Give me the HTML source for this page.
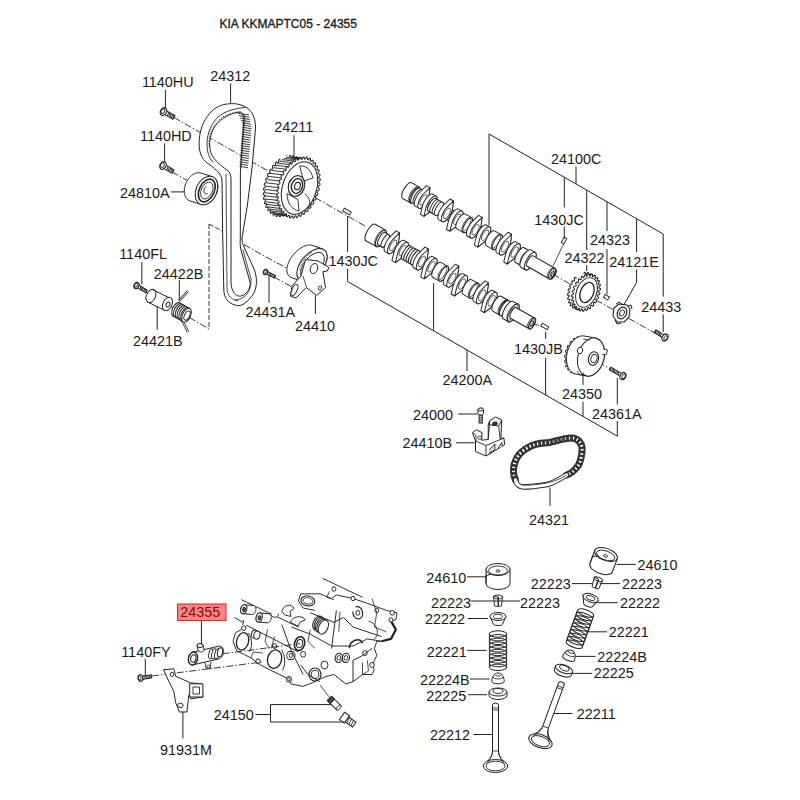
<!DOCTYPE html>
<html><head><meta charset="utf-8"><style>html,body{margin:0;padding:0;background:#fff;width:800px;height:800px;overflow:hidden}svg{display:block;font-family:"Liberation Sans",sans-serif}</style></head>
<body><svg width="800" height="800" viewBox="0 0 800 800">
<line x1="174.0" y1="117.5" x2="365.0" y2="226.0" stroke="#222" stroke-width="0.9" stroke-dasharray="7 2 1.5 2"/>
<line x1="172.0" y1="172.0" x2="190.0" y2="182.0" stroke="#222" stroke-width="0.9" stroke-dasharray="7 2 1.5 2"/>
<g transform="translate(163.5 111.5) rotate(29.7) scale(1)">
<rect x="2.0" y="-2.0" width="10.1" height="4.1" fill="#fff" stroke="#222" stroke-width="1"/>
<line x1="4.8" y1="-2.0" x2="5.7" y2="2.0" stroke="#222" stroke-width="0.9"/>
<line x1="6.3" y1="-2.0" x2="7.2" y2="2.0" stroke="#222" stroke-width="0.9"/>
<line x1="7.8" y1="-2.0" x2="8.7" y2="2.0" stroke="#222" stroke-width="0.9"/>
<line x1="9.3" y1="-2.0" x2="10.2" y2="2.0" stroke="#222" stroke-width="0.9"/>
<line x1="10.8" y1="-2.0" x2="11.7" y2="2.0" stroke="#222" stroke-width="0.9"/>
<ellipse cx="0" cy="0" rx="3.0" ry="4.0" fill="#fff" stroke="#222" stroke-width="1.2"/>
<ellipse cx="-0.8" cy="0" rx="1.7" ry="2.4" fill="none" stroke="#222" stroke-width="0.9"/>
</g>
<g transform="translate(163.0 165.5) rotate(31.0) scale(1)">
<rect x="2.0" y="-2.0" width="9.7" height="4.1" fill="#fff" stroke="#222" stroke-width="1"/>
<line x1="4.8" y1="-2.0" x2="5.7" y2="2.0" stroke="#222" stroke-width="0.9"/>
<line x1="6.3" y1="-2.0" x2="7.2" y2="2.0" stroke="#222" stroke-width="0.9"/>
<line x1="7.8" y1="-2.0" x2="8.7" y2="2.0" stroke="#222" stroke-width="0.9"/>
<line x1="9.3" y1="-2.0" x2="10.2" y2="2.0" stroke="#222" stroke-width="0.9"/>
<line x1="10.8" y1="-2.0" x2="11.7" y2="2.0" stroke="#222" stroke-width="0.9"/>
<ellipse cx="0" cy="0" rx="3.0" ry="4.0" fill="#fff" stroke="#222" stroke-width="1.2"/>
<ellipse cx="-0.8" cy="0" rx="1.7" ry="2.4" fill="none" stroke="#222" stroke-width="0.9"/>
</g>
<polygon points="184.22,191.23 184.25,190.03 184.36,188.80 184.56,187.56 184.84,186.31 185.21,185.07 185.65,183.85 186.17,182.65 186.75,181.48 187.41,180.35 188.12,179.28 188.90,178.26 189.72,177.31 190.59,176.43 191.49,175.64 192.42,174.93 193.38,174.31 194.36,173.79 195.34,173.37 196.32,173.05 197.30,172.84 198.26,172.74 199.21,172.74 200.12,172.86 201.00,173.08 212.00,176.58 212.84,176.91 213.63,177.34 214.36,177.87 215.04,178.50 215.65,179.21 216.19,180.02 216.66,180.90 217.05,181.86 217.36,182.88 217.58,183.97 217.73,185.10 217.78,186.27 217.75,187.47 217.64,188.70 217.44,189.94 217.16,191.19 216.79,192.43 216.35,193.65 215.83,194.85 215.25,196.02 214.59,197.15 213.88,198.22 213.10,199.24 212.28,200.19 211.41,201.07 210.51,201.86 209.58,202.57 208.62,203.19 207.64,203.71 206.66,204.13 205.68,204.45 204.70,204.66 203.74,204.76 202.79,204.76 201.88,204.64 201.00,204.42 190.00,200.92 189.16,200.59 188.37,200.16 187.64,199.63 186.96,199.00 186.35,198.29 185.81,197.48 185.34,196.60 184.95,195.64 184.64,194.62 184.42,193.53 184.27,192.40" fill="#fff" stroke="#222" stroke-width="1" stroke-linejoin="round"/>
<ellipse cx="206.5" cy="190.5" rx="10.3" ry="15.0" transform="rotate(25.0 206.5 190.5)" stroke="#222" stroke-width="1" fill="#fff" />
<ellipse cx="206.8" cy="190.5" rx="7.5" ry="12.0" transform="rotate(25.0 206.8 190.5)" stroke="#222" stroke-width="1.6" fill="#fff" />
<ellipse cx="206.8" cy="190.5" rx="5.5" ry="9.0" transform="rotate(25.0 206.8 190.5)" stroke="#222" stroke-width="0.8" fill="#fff" />
<path d="M206.5,186.5 A2.6,3.6 25 1 0 207.5,193.5" stroke="#222" stroke-width="0.9" fill="none"/>
<path d="M230,103.7 C240,103 250,107 253.5,116 C255.5,121 255.8,126 255.4,130 L252,168 L247.4,205 L242,238 C242,241 242.5,244 244,247 L254.5,270 C258,280 257,292 250,298 C246,304 240,307 235,305 C228,303 224,298 223.8,290 L222.6,230 L222,180 C221.5,173 214,168 206,162 C199,156 198.5,146 199.5,137 C201,126 205,118 212,111 C217,106 224,104 230,103.7 Z M240.5,112 C232,112.5 221,118 215,126 C210,134 209,142 210,149 C211,158 220,165 227,170 C230,172 231,175 231,180 L231,283 C231.5,292 236,297 241,296 C246,295 251,289 250,282 L241,250 C240,246 240,242 240.3,238 L240.4,172 L243.5,124 C244,118 243.5,113 240.5,112 Z" fill="#fff" fill-rule="evenodd" stroke="#222" stroke-width="1"/>
<path d="M245,107.5 C236,108 225,111 218,117 C211,124 207.5,133 207,143 C207,152 209,158 213,162" stroke="#222" stroke-width="0.9" fill="none" stroke-linejoin="round" stroke-linecap="round" />
<path d="M226,174 L227,290 C228,296 232,300 238,301" stroke="#222" stroke-width="0.8" fill="none" stroke-linejoin="round" stroke-linecap="round" />
<path d="M235,300 C244,300 252,292 251,279 L243,250" stroke="#222" stroke-width="0.8" fill="none" stroke-linejoin="round" stroke-linecap="round" />
<line x1="240.0" y1="112.8" x2="239.8" y2="111.2" stroke="#222" stroke-width="0.8"/>
<line x1="237.6" y1="113.1" x2="237.4" y2="111.5" stroke="#222" stroke-width="0.8"/>
<line x1="235.2" y1="113.4" x2="235.0" y2="111.8" stroke="#222" stroke-width="0.8"/>
<line x1="232.9" y1="113.8" x2="232.7" y2="112.2" stroke="#222" stroke-width="0.8"/>
<line x1="230.5" y1="114.2" x2="229.8" y2="112.8" stroke="#222" stroke-width="0.8"/>
<line x1="228.4" y1="115.3" x2="227.7" y2="113.9" stroke="#222" stroke-width="0.8"/>
<line x1="226.2" y1="116.4" x2="225.5" y2="114.9" stroke="#222" stroke-width="0.8"/>
<line x1="224.1" y1="117.5" x2="223.4" y2="116.0" stroke="#222" stroke-width="0.8"/>
<line x1="222.0" y1="118.5" x2="220.8" y2="117.5" stroke="#222" stroke-width="0.8"/>
<line x1="220.3" y1="120.3" x2="219.2" y2="119.2" stroke="#222" stroke-width="0.8"/>
<line x1="218.7" y1="122.1" x2="217.5" y2="121.0" stroke="#222" stroke-width="0.8"/>
<line x1="217.0" y1="123.8" x2="215.9" y2="122.7" stroke="#222" stroke-width="0.8"/>
<line x1="215.4" y1="125.6" x2="214.2" y2="124.5" stroke="#222" stroke-width="0.8"/>
<line x1="214.2" y1="127.6" x2="212.8" y2="126.9" stroke="#222" stroke-width="0.8"/>
<line x1="213.1" y1="129.8" x2="211.7" y2="129.0" stroke="#222" stroke-width="0.8"/>
<line x1="212.0" y1="131.9" x2="210.6" y2="131.2" stroke="#222" stroke-width="0.8"/>
<line x1="211.0" y1="134.1" x2="209.4" y2="133.8" stroke="#222" stroke-width="0.8"/>
<line x1="210.6" y1="136.4" x2="209.1" y2="136.2" stroke="#222" stroke-width="0.8"/>
<line x1="210.3" y1="138.8" x2="208.7" y2="138.6" stroke="#222" stroke-width="0.8"/>
<line x1="209.9" y1="141.2" x2="208.3" y2="140.9" stroke="#222" stroke-width="0.8"/>
<line x1="210.0" y1="143.6" x2="208.4" y2="143.7" stroke="#222" stroke-width="0.8"/>
<line x1="210.2" y1="145.9" x2="208.6" y2="146.1" stroke="#222" stroke-width="0.8"/>
<line x1="238.0" y1="113.4" x2="249.0" y2="114.9" stroke="#222" stroke-width="0.9"/>
<line x1="239.0" y1="115.7" x2="249.4" y2="117.2" stroke="#222" stroke-width="0.9"/>
<line x1="240.1" y1="118.0" x2="249.8" y2="119.5" stroke="#222" stroke-width="0.9"/>
<line x1="241.1" y1="120.3" x2="250.2" y2="121.8" stroke="#222" stroke-width="0.9"/>
<line x1="242.1" y1="122.6" x2="250.7" y2="124.1" stroke="#222" stroke-width="0.9"/>
<line x1="242.4" y1="124.9" x2="251.1" y2="126.4" stroke="#222" stroke-width="0.9"/>
<line x1="242.2" y1="127.2" x2="251.5" y2="128.7" stroke="#222" stroke-width="0.9"/>
<line x1="242.1" y1="129.5" x2="251.3" y2="131.0" stroke="#222" stroke-width="0.9"/>
<line x1="241.9" y1="131.8" x2="251.1" y2="133.3" stroke="#222" stroke-width="0.9"/>
<line x1="241.8" y1="134.1" x2="250.9" y2="135.6" stroke="#222" stroke-width="0.9"/>
<line x1="241.6" y1="136.4" x2="250.7" y2="137.9" stroke="#222" stroke-width="0.9"/>
<line x1="241.4" y1="138.7" x2="250.5" y2="140.2" stroke="#222" stroke-width="0.9"/>
<line x1="241.3" y1="141.0" x2="250.3" y2="142.5" stroke="#222" stroke-width="0.9"/>
<line x1="241.1" y1="143.3" x2="250.1" y2="144.8" stroke="#222" stroke-width="0.9"/>
<line x1="240.9" y1="145.6" x2="249.9" y2="147.1" stroke="#222" stroke-width="0.9"/>
<line x1="240.8" y1="147.9" x2="249.7" y2="149.4" stroke="#222" stroke-width="0.9"/>
<line x1="240.6" y1="150.2" x2="249.4" y2="151.7" stroke="#222" stroke-width="0.9"/>
<line x1="240.5" y1="152.5" x2="249.2" y2="154.0" stroke="#222" stroke-width="0.9"/>
<line x1="240.3" y1="154.8" x2="249.0" y2="156.3" stroke="#222" stroke-width="0.9"/>
<line x1="240.1" y1="157.1" x2="248.8" y2="158.6" stroke="#222" stroke-width="0.9"/>
<line x1="240.0" y1="159.4" x2="248.6" y2="160.9" stroke="#222" stroke-width="0.9"/>
<line x1="239.8" y1="161.7" x2="248.4" y2="163.2" stroke="#222" stroke-width="0.9"/>
<line x1="239.7" y1="164.0" x2="248.2" y2="165.5" stroke="#222" stroke-width="0.9"/>
<line x1="239.5" y1="166.3" x2="248.0" y2="167.8" stroke="#222" stroke-width="0.9"/>
<path d="M242.5,113 C246,117 245,121 244,126 L240.8,168" stroke="#222" stroke-width="0.7" fill="none" stroke-linejoin="round" stroke-linecap="round" />
<polygon points="20.5,0.0 20.5,1.3 19.0,2.4 18.9,3.6 20.2,5.2 20.1,6.5 18.5,7.2 18.3,8.4 19.4,10.2 19.1,11.5 17.5,11.8 17.1,12.9 18.0,15.0 17.6,16.1 16.0,16.0 15.5,17.0 16.2,19.3 15.6,20.4 14.0,19.8 13.5,20.7 13.9,23.2 13.2,24.0 11.7,23.1 11.1,23.8 11.2,26.4 10.5,27.1 9.1,25.8 8.4,26.3 8.2,28.8 7.5,29.3 6.2,27.7 5.4,28.1 5.0,30.5 4.2,30.8 3.1,28.9 2.4,29.1 1.7,31.4 0.8,31.5 0.0,29.3 -0.8,29.3 -1.7,31.4 -2.5,31.3 -3.1,28.9 -3.9,28.7 -5.0,30.5 -5.8,30.2 -6.2,27.7 -6.9,27.3 -8.2,28.8 -9.0,28.3 -9.1,25.8 -9.8,25.2 -11.2,26.4 -11.9,25.6 -11.7,23.1 -12.3,22.4 -13.9,23.2 -14.5,22.3 -14.0,19.8 -14.6,18.9 -16.2,19.3 -16.7,18.3 -16.0,16.0 -16.4,15.0 -18.0,15.0 -18.4,13.8 -17.5,11.8 -17.8,10.7 -19.4,10.2 -19.6,9.0 -18.5,7.2 -18.7,6.0 -20.2,5.2 -20.3,3.9 -19.0,2.4 -19.1,1.2 -20.5,0.0 -20.5,-1.3 -19.0,-2.4 -18.9,-3.6 -20.2,-5.2 -20.1,-6.5 -18.5,-7.2 -18.3,-8.4 -19.4,-10.2 -19.1,-11.5 -17.5,-11.8 -17.1,-12.9 -18.0,-15.0 -17.6,-16.1 -16.0,-16.0 -15.5,-17.0 -16.2,-19.3 -15.6,-20.4 -14.0,-19.8 -13.5,-20.7 -13.9,-23.2 -13.2,-24.0 -11.7,-23.1 -11.1,-23.8 -11.2,-26.4 -10.5,-27.1 -9.1,-25.8 -8.4,-26.3 -8.2,-28.8 -7.5,-29.3 -6.2,-27.7 -5.4,-28.1 -5.0,-30.5 -4.2,-30.8 -3.1,-28.9 -2.4,-29.1 -1.7,-31.4 -0.8,-31.5 -0.0,-29.3 0.8,-29.3 1.7,-31.4 2.5,-31.3 3.1,-28.9 3.9,-28.7 5.0,-30.5 5.8,-30.2 6.2,-27.7 6.9,-27.3 8.2,-28.8 9.0,-28.3 9.1,-25.8 9.8,-25.2 11.2,-26.4 11.9,-25.6 11.7,-23.1 12.3,-22.4 13.9,-23.2 14.5,-22.3 14.0,-19.8 14.6,-18.9 16.2,-19.3 16.7,-18.3 16.0,-16.0 16.4,-15.0 18.0,-15.0 18.4,-13.8 17.5,-11.8 17.8,-10.7 19.4,-10.2 19.6,-9.0 18.5,-7.2 18.7,-6.0 20.2,-5.2 20.3,-3.9 19.0,-2.4 19.1,-1.2" transform="translate(285.0 186.0) rotate(18.0)" fill="#fff" stroke="#222" stroke-width="1" stroke-linejoin="round"/>
<path d="M279,155.5 L292,156.5 L313,217 L299,217.5 Z" fill="#fff" stroke="none"/>
<line x1="275.7" y1="214.5" x2="288.2" y2="216.0" stroke="#222" stroke-width="0.9"/>
<line x1="273.7" y1="213.7" x2="286.2" y2="215.2" stroke="#222" stroke-width="0.9"/>
<line x1="271.9" y1="212.5" x2="284.4" y2="214.0" stroke="#222" stroke-width="0.9"/>
<line x1="270.2" y1="210.9" x2="282.7" y2="212.4" stroke="#222" stroke-width="0.9"/>
<line x1="268.7" y1="209.0" x2="281.2" y2="210.5" stroke="#222" stroke-width="0.9"/>
<line x1="267.5" y1="206.9" x2="280.0" y2="208.4" stroke="#222" stroke-width="0.9"/>
<line x1="266.4" y1="204.4" x2="278.9" y2="205.9" stroke="#222" stroke-width="0.9"/>
<line x1="265.6" y1="201.8" x2="278.1" y2="203.3" stroke="#222" stroke-width="0.9"/>
<line x1="265.0" y1="198.9" x2="277.5" y2="200.4" stroke="#222" stroke-width="0.9"/>
<line x1="264.7" y1="195.8" x2="277.2" y2="197.3" stroke="#222" stroke-width="0.9"/>
<line x1="264.7" y1="192.7" x2="277.2" y2="194.2" stroke="#222" stroke-width="0.9"/>
<line x1="264.9" y1="189.4" x2="277.4" y2="190.9" stroke="#222" stroke-width="0.9"/>
<line x1="265.4" y1="186.1" x2="277.9" y2="187.6" stroke="#222" stroke-width="0.9"/>
<line x1="266.2" y1="182.8" x2="278.7" y2="184.3" stroke="#222" stroke-width="0.9"/>
<line x1="267.1" y1="179.5" x2="279.6" y2="181.0" stroke="#222" stroke-width="0.9"/>
<line x1="268.3" y1="176.3" x2="280.8" y2="177.8" stroke="#222" stroke-width="0.9"/>
<line x1="269.8" y1="173.3" x2="282.3" y2="174.8" stroke="#222" stroke-width="0.9"/>
<line x1="271.4" y1="170.4" x2="283.9" y2="171.9" stroke="#222" stroke-width="0.9"/>
<line x1="273.2" y1="167.7" x2="285.7" y2="169.2" stroke="#222" stroke-width="0.9"/>
<line x1="275.1" y1="165.2" x2="287.6" y2="166.7" stroke="#222" stroke-width="0.9"/>
<line x1="277.2" y1="163.1" x2="289.7" y2="164.6" stroke="#222" stroke-width="0.9"/>
<line x1="279.4" y1="161.2" x2="291.9" y2="162.7" stroke="#222" stroke-width="0.9"/>
<line x1="281.7" y1="159.6" x2="294.2" y2="161.1" stroke="#222" stroke-width="0.9"/>
<line x1="284.0" y1="158.4" x2="296.5" y2="159.9" stroke="#222" stroke-width="0.9"/>
<line x1="286.3" y1="157.5" x2="298.8" y2="159.0" stroke="#222" stroke-width="0.9"/>
<line x1="288.6" y1="157.0" x2="301.1" y2="158.5" stroke="#222" stroke-width="0.9"/>
<line x1="290.8" y1="156.9" x2="303.3" y2="158.4" stroke="#222" stroke-width="0.9"/>
<line x1="293.0" y1="157.1" x2="305.5" y2="158.6" stroke="#222" stroke-width="0.9"/>
<line x1="295.0" y1="157.7" x2="307.5" y2="159.2" stroke="#222" stroke-width="0.9"/>
<line x1="297.0" y1="158.7" x2="309.5" y2="160.2" stroke="#222" stroke-width="0.9"/>
<polygon points="20.5,0.0 20.5,1.3 19.0,2.4 18.9,3.6 20.2,5.2 20.1,6.5 18.5,7.2 18.3,8.4 19.4,10.2 19.1,11.5 17.5,11.8 17.1,12.9 18.0,15.0 17.6,16.1 16.0,16.0 15.5,17.0 16.2,19.3 15.6,20.4 14.0,19.8 13.5,20.7 13.9,23.2 13.2,24.0 11.7,23.1 11.1,23.8 11.2,26.4 10.5,27.1 9.1,25.8 8.4,26.3 8.2,28.8 7.5,29.3 6.2,27.7 5.4,28.1 5.0,30.5 4.2,30.8 3.1,28.9 2.4,29.1 1.7,31.4 0.8,31.5 0.0,29.3 -0.8,29.3 -1.7,31.4 -2.5,31.3 -3.1,28.9 -3.9,28.7 -5.0,30.5 -5.8,30.2 -6.2,27.7 -6.9,27.3 -8.2,28.8 -9.0,28.3 -9.1,25.8 -9.8,25.2 -11.2,26.4 -11.9,25.6 -11.7,23.1 -12.3,22.4 -13.9,23.2 -14.5,22.3 -14.0,19.8 -14.6,18.9 -16.2,19.3 -16.7,18.3 -16.0,16.0 -16.4,15.0 -18.0,15.0 -18.4,13.8 -17.5,11.8 -17.8,10.7 -19.4,10.2 -19.6,9.0 -18.5,7.2 -18.7,6.0 -20.2,5.2 -20.3,3.9 -19.0,2.4 -19.1,1.2 -20.5,0.0 -20.5,-1.3 -19.0,-2.4 -18.9,-3.6 -20.2,-5.2 -20.1,-6.5 -18.5,-7.2 -18.3,-8.4 -19.4,-10.2 -19.1,-11.5 -17.5,-11.8 -17.1,-12.9 -18.0,-15.0 -17.6,-16.1 -16.0,-16.0 -15.5,-17.0 -16.2,-19.3 -15.6,-20.4 -14.0,-19.8 -13.5,-20.7 -13.9,-23.2 -13.2,-24.0 -11.7,-23.1 -11.1,-23.8 -11.2,-26.4 -10.5,-27.1 -9.1,-25.8 -8.4,-26.3 -8.2,-28.8 -7.5,-29.3 -6.2,-27.7 -5.4,-28.1 -5.0,-30.5 -4.2,-30.8 -3.1,-28.9 -2.4,-29.1 -1.7,-31.4 -0.8,-31.5 -0.0,-29.3 0.8,-29.3 1.7,-31.4 2.5,-31.3 3.1,-28.9 3.9,-28.7 5.0,-30.5 5.8,-30.2 6.2,-27.7 6.9,-27.3 8.2,-28.8 9.0,-28.3 9.1,-25.8 9.8,-25.2 11.2,-26.4 11.9,-25.6 11.7,-23.1 12.3,-22.4 13.9,-23.2 14.5,-22.3 14.0,-19.8 14.6,-18.9 16.2,-19.3 16.7,-18.3 16.0,-16.0 16.4,-15.0 18.0,-15.0 18.4,-13.8 17.5,-11.8 17.8,-10.7 19.4,-10.2 19.6,-9.0 18.5,-7.2 18.7,-6.0 20.2,-5.2 20.3,-3.9 19.0,-2.4 19.1,-1.2" transform="translate(298.5 187.5) rotate(18.0)" fill="#fff" stroke="#222" stroke-width="1" stroke-linejoin="round"/>
<ellipse cx="299.5" cy="188.0" rx="17.0" ry="27.0" transform="rotate(18.0 299.5 188.0)" stroke="#222" stroke-width="1" fill="#fff" />
<path d="M300,166 C306,165 311,170 313,178 L304,181 Z" stroke="#222" stroke-width="0.9" fill="none" stroke-linejoin="round" stroke-linecap="round" />
<path d="M287,194 C287,203 292,210 299,211 L298,200 Z" stroke="#222" stroke-width="0.9" fill="none" stroke-linejoin="round" stroke-linecap="round" />
<path d="M305,194 C309,197 311,202 309,207" stroke="#222" stroke-width="0.9" fill="none" stroke-linejoin="round" stroke-linecap="round" />
<ellipse cx="296.5" cy="186.0" rx="8.0" ry="10.5" transform="rotate(18.0 296.5 186.0)" stroke="#222" stroke-width="1.2" fill="#fff" />
<ellipse cx="297.0" cy="186.0" rx="5.5" ry="7.5" transform="rotate(18.0 297.0 186.0)" stroke="#222" stroke-width="1.4" fill="#fff" />
<ellipse cx="297.5" cy="186.0" rx="2.8" ry="3.8" transform="rotate(18.0 297.5 186.0)" stroke="#222" stroke-width="1.1" fill="#fff" />
<rect x="343" y="210" width="8" height="3.2" transform="rotate(30 347 211.6)" fill="#fff" stroke="#222" stroke-width="0.9"/>
<line x1="146.0" y1="292.0" x2="209.0" y2="329.0" stroke="#222" stroke-width="0.9" stroke-dasharray="7 2 1.5 2"/>
<line x1="209.0" y1="224.0" x2="209.0" y2="329.0" stroke="#222" stroke-width="0.9" stroke-dasharray="5 2"/>
<line x1="209.0" y1="224.0" x2="222.0" y2="231.0" stroke="#222" stroke-width="0.9" stroke-dasharray="5 2"/>
<g transform="translate(136.5 285.5) rotate(31.0) scale(1)">
<rect x="1.6" y="-1.5" width="10.1" height="3.1" fill="#fff" stroke="#222" stroke-width="1"/>
<line x1="4.0" y1="-1.5" x2="4.9" y2="1.5" stroke="#222" stroke-width="0.9"/>
<line x1="5.5" y1="-1.5" x2="6.4" y2="1.5" stroke="#222" stroke-width="0.9"/>
<line x1="7.0" y1="-1.5" x2="7.9" y2="1.5" stroke="#222" stroke-width="0.9"/>
<line x1="8.5" y1="-1.5" x2="9.4" y2="1.5" stroke="#222" stroke-width="0.9"/>
<line x1="10.0" y1="-1.5" x2="10.9" y2="1.5" stroke="#222" stroke-width="0.9"/>
<ellipse cx="0" cy="0" rx="2.4" ry="3.2" fill="#fff" stroke="#222" stroke-width="1.2"/>
<ellipse cx="-0.6" cy="0" rx="1.3" ry="1.9" fill="none" stroke="#222" stroke-width="0.9"/>
</g>
<path d="M153,290 L169,298.5 L167,310 L150,301 Z" fill="#fff" stroke="none"/>
<ellipse cx="151.0" cy="296.0" rx="4.5" ry="7.0" transform="rotate(25.0 151.0 296.0)" stroke="#222" stroke-width="1" fill="#fff" />
<line x1="152.5" y1="289.5" x2="169.5" y2="298.0" stroke="#222" stroke-width="1"/>
<line x1="147.5" y1="302.0" x2="165.0" y2="310.5" stroke="#222" stroke-width="1"/>
<ellipse cx="167.5" cy="304.0" rx="4.5" ry="7.0" transform="rotate(25.0 167.5 304.0)" stroke="#222" stroke-width="1" fill="#fff" />
<ellipse cx="168.0" cy="304.5" rx="1.8" ry="2.6" transform="rotate(25.0 168.0 304.5)" stroke="#222" stroke-width="0.9" fill="#fff" />
<line x1="179.0" y1="301.0" x2="188.0" y2="291.0" stroke="#222" stroke-width="2.4"/>
<line x1="179.0" y1="301.0" x2="188.0" y2="291.0" stroke="#fff" stroke-width="1"/>
<line x1="182.0" y1="320.0" x2="188.0" y2="332.0" stroke="#222" stroke-width="2.4"/>
<line x1="182.0" y1="320.0" x2="188.0" y2="332.0" stroke="#fff" stroke-width="1"/>
<ellipse cx="176.5" cy="309.5" rx="4.0" ry="7.5" transform="rotate(25.0 176.5 309.5)" stroke="#222" stroke-width="1" fill="#fff" />
<ellipse cx="178.3" cy="310.5" rx="4.0" ry="7.5" transform="rotate(25.0 178.3 310.5)" stroke="#222" stroke-width="1" fill="#fff" />
<ellipse cx="180.1" cy="311.5" rx="4.0" ry="7.5" transform="rotate(25.0 180.1 311.5)" stroke="#222" stroke-width="1" fill="#fff" />
<ellipse cx="181.9" cy="312.5" rx="4.0" ry="7.5" transform="rotate(25.0 181.9 312.5)" stroke="#222" stroke-width="1" fill="#fff" />
<ellipse cx="183.7" cy="313.5" rx="4.0" ry="7.5" transform="rotate(25.0 183.7 313.5)" stroke="#222" stroke-width="1" fill="#fff" />
<ellipse cx="185.5" cy="314.5" rx="4.0" ry="7.5" transform="rotate(25.0 185.5 314.5)" stroke="#222" stroke-width="1" fill="#fff" />
<ellipse cx="186.5" cy="315.3" rx="4.0" ry="7.5" transform="rotate(25.0 186.5 315.3)" stroke="#222" stroke-width="1" fill="#fff" />
<ellipse cx="187.0" cy="315.6" rx="2.5" ry="5.0" transform="rotate(25.0 187.0 315.6)" stroke="#222" stroke-width="0.9" fill="#fff" />
<line x1="244.0" y1="244.7" x2="290.0" y2="270.0" stroke="#222" stroke-width="0.9" stroke-dasharray="7 2 1.5 2"/>
<line x1="274.0" y1="277.0" x2="292.0" y2="287.0" stroke="#222" stroke-width="0.9" stroke-dasharray="7 2 1.5 2"/>
<g transform="translate(265.5 272.0) rotate(27.8) scale(1)">
<rect x="1.4" y="-1.4" width="9.3" height="2.7" fill="#fff" stroke="#222" stroke-width="1"/>
<line x1="3.6" y1="-1.4" x2="4.5" y2="1.4" stroke="#222" stroke-width="0.9"/>
<line x1="5.1" y1="-1.4" x2="6.0" y2="1.4" stroke="#222" stroke-width="0.9"/>
<line x1="6.6" y1="-1.4" x2="7.5" y2="1.4" stroke="#222" stroke-width="0.9"/>
<line x1="8.1" y1="-1.4" x2="9.0" y2="1.4" stroke="#222" stroke-width="0.9"/>
<line x1="9.6" y1="-1.4" x2="10.5" y2="1.4" stroke="#222" stroke-width="0.9"/>
<ellipse cx="0" cy="0" rx="2.1" ry="2.8" fill="#fff" stroke="#222" stroke-width="1.2"/>
<ellipse cx="-0.6" cy="0" rx="1.2" ry="1.7" fill="none" stroke="#222" stroke-width="0.9"/>
</g>
<polygon points="286.90,269.68 286.98,268.40 287.18,267.06 287.49,265.69 287.91,264.28 288.44,262.85 289.07,261.40 289.79,259.96 290.62,258.54 291.52,257.13 292.51,255.76 293.57,254.43 294.70,253.15 295.88,251.94 297.10,250.80 298.37,249.75 299.66,248.78 300.97,247.91 302.29,247.14 303.60,246.48 304.90,245.94 306.19,245.51 307.43,245.21 308.64,245.03 309.80,244.97 310.90,245.04 311.93,245.24 312.88,245.56 322.88,249.06 323.75,249.50 324.53,250.06 325.22,250.74 325.81,251.52 326.29,252.40 326.66,253.38 326.92,254.45 327.07,255.60 327.10,256.82 327.02,258.10 326.82,259.44 326.51,260.81 326.09,262.22 325.56,263.65 324.93,265.10 324.21,266.54 323.38,267.96 322.48,269.37 321.49,270.74 320.43,272.07 319.30,273.35 318.12,274.56 316.90,275.70 315.63,276.75 314.34,277.72 313.03,278.59 311.71,279.36 310.40,280.02 309.10,280.56 307.81,280.99 306.57,281.29 305.36,281.47 304.20,281.53 303.10,281.46 302.07,281.26 301.12,280.94 291.12,277.44 290.25,277.00 289.47,276.44 288.78,275.76 288.19,274.98 287.71,274.10 287.34,273.12 287.08,272.05 286.93,270.90" fill="#fff" stroke="#222" stroke-width="1" stroke-linejoin="round"/>
<ellipse cx="312.0" cy="265.0" rx="11.0" ry="19.5" transform="rotate(40.0 312.0 265.0)" stroke="#222" stroke-width="1" fill="#fff" />
<ellipse cx="312.5" cy="265.5" rx="8.5" ry="15.5" transform="rotate(40.0 312.5 265.5)" stroke="#222" stroke-width="0.9" fill="#fff" />
<path d="M300,270 C302,262 306,255 312,252" stroke="#777" stroke-width="2.4" fill="none" stroke-linejoin="round" stroke-dasharray="1 1.3" stroke-linecap="butt"/>
<polygon points="305.5,259.5 318.0,261.0 329.0,267.4 327.2,271.0 322.9,271.7 325.5,287.5 316.7,295.4 306.2,287.5 296.0,298.0 290.5,296.2 292.0,286.0 301.0,276.0" stroke="#222" stroke-width="1" fill="#fff" stroke-linejoin="round"/>
<ellipse cx="314.0" cy="268.5" rx="3.6" ry="5.2" transform="rotate(20.0 314.0 268.5)" stroke="#222" stroke-width="0.9" fill="#fff" />
<ellipse cx="320.0" cy="288.0" rx="1.5" ry="2.2" transform="rotate(20.0 320.0 288.0)" stroke="#222" stroke-width="0.9" fill="#fff" />
<ellipse cx="294.5" cy="290.0" rx="2.5" ry="6.0" transform="rotate(25.0 294.5 290.0)" stroke="#222" stroke-width="0.9" fill="#fff" />
<line x1="303.0" y1="276.0" x2="306.5" y2="287.0" stroke="#222" stroke-width="0.8"/>
<g transform="translate(407.0 190.5) rotate(29.8) scale(1)">
<path d="M0.00,-5.50 L168.19,-5.50 A2.20,5.50 0 0 1 168.19,5.50 L0.00,5.50 A2.20,5.50 0 0 1 0.00,-5.50 Z" fill="#fff" stroke="#222" stroke-width="1"/>
<path d="M0.00,-9.00 L9.00,-9.00 A3.42,9.00 0 0 1 9.00,9.00 L0.00,9.00 A3.42,9.00 0 0 1 0.00,-9.00 Z" fill="#fff" stroke="#222" stroke-width="1"/>
<ellipse cx="9.00" cy="0" rx="3.42" ry="9.00" fill="#fff" stroke="#222" stroke-width="1"/>
<ellipse cx="7.5" cy="0" rx="3.1" ry="8.1" fill="none" stroke="#222" stroke-width="0.7"/>
<ellipse cx="10.0" cy="0" rx="3.2" ry="8.5" fill="#fff" stroke="#222" stroke-width="1"/>
<ellipse cx="12.6" cy="0" rx="3.2" ry="8.5" fill="#fff" stroke="#222" stroke-width="1"/>
<polygon points="11.39,0.00 11.42,-1.24 11.51,-2.46 11.66,-3.64 11.87,-4.75 12.14,-5.78 14.50,-14.00 18.50,-14.00 21.55,-6.72 21.86,-5.78 22.13,-4.75 22.34,-3.64 22.49,-2.46 22.58,-1.24 22.61,0.00 22.58,1.24 22.49,2.46 22.34,3.64 22.13,4.75 21.86,5.78 21.55,6.72 21.20,7.54 20.80,8.23 20.38,8.78 19.93,9.18 19.47,9.42 19.00,9.50 15.00,9.50 14.53,9.42 14.07,9.18 13.62,8.78 13.20,8.23 12.80,7.54 12.45,6.72 12.14,5.78 11.87,4.75 11.66,3.64 11.51,2.46 11.42,1.24" fill="#fff" stroke="#222" stroke-width="0.95" stroke-linejoin="round"/>
<polygon points="15.39,0.00 15.42,-1.24 15.51,-2.46 15.66,-3.64 15.87,-4.75 16.14,-5.78 18.50,-14.00 21.55,-6.72 21.86,-5.78 22.13,-4.75 22.34,-3.64 22.49,-2.46 22.58,-1.24 22.61,0.00 22.58,1.24 22.49,2.46 22.34,3.64 22.13,4.75 21.86,5.78 21.55,6.72 21.20,7.54 20.80,8.23 20.38,8.78 19.93,9.18 19.47,9.42 19.00,9.50 18.53,9.42 18.07,9.18 17.62,8.78 17.20,8.23 16.80,7.54 16.45,6.72 16.14,5.78 15.87,4.75 15.66,3.64 15.51,2.46 15.42,1.24" fill="#fff" stroke="#222" stroke-width="0.95" stroke-linejoin="round"/>
<ellipse cx="19.0" cy="0" rx="2.5" ry="5.9" fill="none" stroke="#222" stroke-width="0.7"/>
<polygon points="20.39,0.00 20.42,-1.24 20.51,-2.46 20.66,-3.64 20.87,-4.75 21.14,-5.78 21.45,-6.72 21.80,-7.54 22.20,-8.23 22.62,-8.78 23.07,-9.18 23.53,-9.42 24.00,-9.50 28.00,-9.50 28.47,-9.42 28.93,-9.18 29.38,-8.78 29.80,-8.23 30.20,-7.54 30.55,-6.72 30.86,-5.78 31.13,-4.75 31.34,-3.64 31.49,-2.46 31.58,-1.24 31.61,0.00 31.58,1.24 31.49,2.46 31.34,3.64 31.13,4.75 30.86,5.78 30.55,6.72 27.50,14.00 23.50,14.00 21.14,5.78 20.87,4.75 20.66,3.64 20.51,2.46 20.42,1.24" fill="#fff" stroke="#222" stroke-width="0.95" stroke-linejoin="round"/>
<polygon points="24.39,0.00 24.42,-1.24 24.51,-2.46 24.66,-3.64 24.87,-4.75 25.14,-5.78 25.45,-6.72 25.80,-7.54 26.20,-8.23 26.62,-8.78 27.07,-9.18 27.53,-9.42 28.00,-9.50 28.47,-9.42 28.93,-9.18 29.38,-8.78 29.80,-8.23 30.20,-7.54 30.55,-6.72 30.86,-5.78 31.13,-4.75 31.34,-3.64 31.49,-2.46 31.58,-1.24 31.61,0.00 31.58,1.24 31.49,2.46 31.34,3.64 31.13,4.75 30.86,5.78 30.55,6.72 27.50,14.00 25.14,5.78 24.87,4.75 24.66,3.64 24.51,2.46 24.42,1.24" fill="#fff" stroke="#222" stroke-width="0.95" stroke-linejoin="round"/>
<ellipse cx="28.0" cy="0" rx="2.5" ry="5.9" fill="none" stroke="#222" stroke-width="0.7"/>
<ellipse cx="29.0" cy="0" rx="2.9" ry="7.5" fill="#fff" stroke="#222" stroke-width="1"/>
<ellipse cx="31.6" cy="0" rx="2.9" ry="7.5" fill="#fff" stroke="#222" stroke-width="1"/>
<ellipse cx="34.2" cy="0" rx="2.9" ry="7.5" fill="#fff" stroke="#222" stroke-width="1"/>
<ellipse cx="36.8" cy="0" rx="2.9" ry="7.5" fill="#fff" stroke="#222" stroke-width="1"/>
<polygon points="38.39,0.00 38.42,-1.24 38.51,-2.46 38.66,-3.64 38.87,-4.75 39.14,-5.78 41.50,-14.00 45.50,-14.00 48.55,-6.72 48.86,-5.78 49.13,-4.75 49.34,-3.64 49.49,-2.46 49.58,-1.24 49.61,0.00 49.58,1.24 49.49,2.46 49.34,3.64 49.13,4.75 48.86,5.78 48.55,6.72 48.20,7.54 47.80,8.23 47.38,8.78 46.93,9.18 46.47,9.42 46.00,9.50 42.00,9.50 41.53,9.42 41.07,9.18 40.62,8.78 40.20,8.23 39.80,7.54 39.45,6.72 39.14,5.78 38.87,4.75 38.66,3.64 38.51,2.46 38.42,1.24" fill="#fff" stroke="#222" stroke-width="0.95" stroke-linejoin="round"/>
<polygon points="42.39,0.00 42.42,-1.24 42.51,-2.46 42.66,-3.64 42.87,-4.75 43.14,-5.78 45.50,-14.00 48.55,-6.72 48.86,-5.78 49.13,-4.75 49.34,-3.64 49.49,-2.46 49.58,-1.24 49.61,0.00 49.58,1.24 49.49,2.46 49.34,3.64 49.13,4.75 48.86,5.78 48.55,6.72 48.20,7.54 47.80,8.23 47.38,8.78 46.93,9.18 46.47,9.42 46.00,9.50 45.53,9.42 45.07,9.18 44.62,8.78 44.20,8.23 43.80,7.54 43.45,6.72 43.14,5.78 42.87,4.75 42.66,3.64 42.51,2.46 42.42,1.24" fill="#fff" stroke="#222" stroke-width="0.95" stroke-linejoin="round"/>
<ellipse cx="46.0" cy="0" rx="2.5" ry="5.9" fill="none" stroke="#222" stroke-width="0.7"/>
<polygon points="50.39,0.00 50.42,-1.24 50.51,-2.46 50.66,-3.64 50.87,-4.75 51.14,-5.78 51.45,-6.72 51.80,-7.54 52.20,-8.23 52.62,-8.78 53.07,-9.18 53.53,-9.42 54.00,-9.50 58.00,-9.50 58.47,-9.42 58.93,-9.18 59.38,-8.78 59.80,-8.23 60.20,-7.54 60.55,-6.72 60.86,-5.78 61.13,-4.75 61.34,-3.64 61.49,-2.46 61.58,-1.24 61.61,0.00 61.58,1.24 61.49,2.46 61.34,3.64 61.13,4.75 60.86,5.78 60.55,6.72 57.50,14.00 53.50,14.00 51.14,5.78 50.87,4.75 50.66,3.64 50.51,2.46 50.42,1.24" fill="#fff" stroke="#222" stroke-width="0.95" stroke-linejoin="round"/>
<polygon points="54.39,0.00 54.42,-1.24 54.51,-2.46 54.66,-3.64 54.87,-4.75 55.14,-5.78 55.45,-6.72 55.80,-7.54 56.20,-8.23 56.62,-8.78 57.07,-9.18 57.53,-9.42 58.00,-9.50 58.47,-9.42 58.93,-9.18 59.38,-8.78 59.80,-8.23 60.20,-7.54 60.55,-6.72 60.86,-5.78 61.13,-4.75 61.34,-3.64 61.49,-2.46 61.58,-1.24 61.61,0.00 61.58,1.24 61.49,2.46 61.34,3.64 61.13,4.75 60.86,5.78 60.55,6.72 57.50,14.00 55.14,5.78 54.87,4.75 54.66,3.64 54.51,2.46 54.42,1.24" fill="#fff" stroke="#222" stroke-width="0.95" stroke-linejoin="round"/>
<ellipse cx="58.0" cy="0" rx="2.5" ry="5.9" fill="none" stroke="#222" stroke-width="0.7"/>
<path d="M62.00,-8.50 L70.00,-8.50 A3.23,8.50 0 0 1 70.00,8.50 L62.00,8.50 A3.23,8.50 0 0 1 62.00,-8.50 Z" fill="#fff" stroke="#222" stroke-width="1"/>
<ellipse cx="70.00" cy="0" rx="3.23" ry="8.50" fill="#fff" stroke="#222" stroke-width="1"/>
<ellipse cx="68.5" cy="0" rx="2.9" ry="7.7" fill="none" stroke="#222" stroke-width="0.7"/>
<polygon points="71.39,0.00 71.42,-1.24 71.51,-2.46 71.66,-3.64 71.87,-4.75 72.14,-5.78 74.50,-14.00 78.50,-14.00 81.55,-6.72 81.86,-5.78 82.13,-4.75 82.34,-3.64 82.49,-2.46 82.58,-1.24 82.61,0.00 82.58,1.24 82.49,2.46 82.34,3.64 82.13,4.75 81.86,5.78 81.55,6.72 81.20,7.54 80.81,8.23 80.38,8.78 79.93,9.18 79.47,9.42 79.00,9.50 75.00,9.50 74.53,9.42 74.07,9.18 73.62,8.78 73.20,8.23 72.80,7.54 72.45,6.72 72.14,5.78 71.87,4.75 71.66,3.64 71.51,2.46 71.42,1.24" fill="#fff" stroke="#222" stroke-width="0.95" stroke-linejoin="round"/>
<polygon points="75.39,0.00 75.42,-1.24 75.51,-2.46 75.66,-3.64 75.87,-4.75 76.14,-5.78 78.50,-14.00 81.55,-6.72 81.86,-5.78 82.13,-4.75 82.34,-3.64 82.49,-2.46 82.58,-1.24 82.61,0.00 82.58,1.24 82.49,2.46 82.34,3.64 82.13,4.75 81.86,5.78 81.55,6.72 81.20,7.54 80.81,8.23 80.38,8.78 79.93,9.18 79.47,9.42 79.00,9.50 78.53,9.42 78.07,9.18 77.62,8.78 77.20,8.23 76.80,7.54 76.45,6.72 76.14,5.78 75.87,4.75 75.66,3.64 75.51,2.46 75.42,1.24" fill="#fff" stroke="#222" stroke-width="0.95" stroke-linejoin="round"/>
<ellipse cx="79.0" cy="0" rx="2.5" ry="5.9" fill="none" stroke="#222" stroke-width="0.7"/>
<polygon points="82.39,0.00 82.42,-1.24 82.51,-2.46 82.66,-3.64 82.87,-4.75 83.14,-5.78 83.45,-6.72 83.80,-7.54 84.19,-8.23 84.62,-8.78 85.07,-9.18 85.53,-9.42 86.00,-9.50 90.00,-9.50 90.47,-9.42 90.93,-9.18 91.38,-8.78 91.81,-8.23 92.20,-7.54 92.55,-6.72 92.86,-5.78 93.13,-4.75 93.34,-3.64 93.49,-2.46 93.58,-1.24 93.61,0.00 93.58,1.24 93.49,2.46 93.34,3.64 93.13,4.75 92.86,5.78 92.55,6.72 89.50,14.00 85.50,14.00 83.14,5.78 82.87,4.75 82.66,3.64 82.51,2.46 82.42,1.24" fill="#fff" stroke="#222" stroke-width="0.95" stroke-linejoin="round"/>
<polygon points="86.39,0.00 86.42,-1.24 86.51,-2.46 86.66,-3.64 86.87,-4.75 87.14,-5.78 87.45,-6.72 87.80,-7.54 88.19,-8.23 88.62,-8.78 89.07,-9.18 89.53,-9.42 90.00,-9.50 90.47,-9.42 90.93,-9.18 91.38,-8.78 91.81,-8.23 92.20,-7.54 92.55,-6.72 92.86,-5.78 93.13,-4.75 93.34,-3.64 93.49,-2.46 93.58,-1.24 93.61,0.00 93.58,1.24 93.49,2.46 93.34,3.64 93.13,4.75 92.86,5.78 92.55,6.72 89.50,14.00 87.14,5.78 86.87,4.75 86.66,3.64 86.51,2.46 86.42,1.24" fill="#fff" stroke="#222" stroke-width="0.95" stroke-linejoin="round"/>
<ellipse cx="90.0" cy="0" rx="2.5" ry="5.9" fill="none" stroke="#222" stroke-width="0.7"/>
<path d="M96.00,-8.50 L104.00,-8.50 A3.23,8.50 0 0 1 104.00,8.50 L96.00,8.50 A3.23,8.50 0 0 1 96.00,-8.50 Z" fill="#fff" stroke="#222" stroke-width="1"/>
<ellipse cx="104.00" cy="0" rx="3.23" ry="8.50" fill="#fff" stroke="#222" stroke-width="1"/>
<ellipse cx="102.5" cy="0" rx="2.9" ry="7.7" fill="none" stroke="#222" stroke-width="0.7"/>
<polygon points="105.39,0.00 105.42,-1.24 105.51,-2.46 105.66,-3.64 105.87,-4.75 106.14,-5.78 108.50,-14.00 112.50,-14.00 115.55,-6.72 115.86,-5.78 116.13,-4.75 116.34,-3.64 116.49,-2.46 116.58,-1.24 116.61,0.00 116.58,1.24 116.49,2.46 116.34,3.64 116.13,4.75 115.86,5.78 115.55,6.72 115.20,7.54 114.81,8.23 114.38,8.78 113.93,9.18 113.47,9.42 113.00,9.50 109.00,9.50 108.53,9.42 108.07,9.18 107.62,8.78 107.20,8.23 106.80,7.54 106.45,6.72 106.14,5.78 105.87,4.75 105.66,3.64 105.51,2.46 105.42,1.24" fill="#fff" stroke="#222" stroke-width="0.95" stroke-linejoin="round"/>
<polygon points="109.39,0.00 109.42,-1.24 109.51,-2.46 109.66,-3.64 109.87,-4.75 110.14,-5.78 112.50,-14.00 115.55,-6.72 115.86,-5.78 116.13,-4.75 116.34,-3.64 116.49,-2.46 116.58,-1.24 116.61,0.00 116.58,1.24 116.49,2.46 116.34,3.64 116.13,4.75 115.86,5.78 115.55,6.72 115.20,7.54 114.81,8.23 114.38,8.78 113.93,9.18 113.47,9.42 113.00,9.50 112.53,9.42 112.07,9.18 111.62,8.78 111.20,8.23 110.80,7.54 110.45,6.72 110.14,5.78 109.87,4.75 109.66,3.64 109.51,2.46 109.42,1.24" fill="#fff" stroke="#222" stroke-width="0.95" stroke-linejoin="round"/>
<ellipse cx="113.0" cy="0" rx="2.5" ry="5.9" fill="none" stroke="#222" stroke-width="0.7"/>
<polygon points="116.39,0.00 116.42,-1.24 116.51,-2.46 116.66,-3.64 116.87,-4.75 117.14,-5.78 117.45,-6.72 117.80,-7.54 118.19,-8.23 118.62,-8.78 119.07,-9.18 119.53,-9.42 120.00,-9.50 124.00,-9.50 124.47,-9.42 124.93,-9.18 125.38,-8.78 125.81,-8.23 126.20,-7.54 126.55,-6.72 126.86,-5.78 127.13,-4.75 127.34,-3.64 127.49,-2.46 127.58,-1.24 127.61,0.00 127.58,1.24 127.49,2.46 127.34,3.64 127.13,4.75 126.86,5.78 126.55,6.72 123.50,14.00 119.50,14.00 117.14,5.78 116.87,4.75 116.66,3.64 116.51,2.46 116.42,1.24" fill="#fff" stroke="#222" stroke-width="0.95" stroke-linejoin="round"/>
<polygon points="120.39,0.00 120.42,-1.24 120.51,-2.46 120.66,-3.64 120.87,-4.75 121.14,-5.78 121.45,-6.72 121.80,-7.54 122.19,-8.23 122.62,-8.78 123.07,-9.18 123.53,-9.42 124.00,-9.50 124.47,-9.42 124.93,-9.18 125.38,-8.78 125.81,-8.23 126.20,-7.54 126.55,-6.72 126.86,-5.78 127.13,-4.75 127.34,-3.64 127.49,-2.46 127.58,-1.24 127.61,0.00 127.58,1.24 127.49,2.46 127.34,3.64 127.13,4.75 126.86,5.78 126.55,6.72 123.50,14.00 121.14,5.78 120.87,4.75 120.66,3.64 120.51,2.46 120.42,1.24" fill="#fff" stroke="#222" stroke-width="0.95" stroke-linejoin="round"/>
<ellipse cx="124.0" cy="0" rx="2.5" ry="5.9" fill="none" stroke="#222" stroke-width="0.7"/>
<path d="M130.00,-8.50 L137.00,-8.50 A3.23,8.50 0 0 1 137.00,8.50 L130.00,8.50 A3.23,8.50 0 0 1 130.00,-8.50 Z" fill="#fff" stroke="#222" stroke-width="1"/>
<ellipse cx="137.00" cy="0" rx="3.23" ry="8.50" fill="#fff" stroke="#222" stroke-width="1"/>
<ellipse cx="135.5" cy="0" rx="2.9" ry="7.7" fill="none" stroke="#222" stroke-width="0.7"/>
<path d="M137.00,-10.00 L142.00,-10.00 A3.80,10.00 0 0 1 142.00,10.00 L137.00,10.00 A3.80,10.00 0 0 1 137.00,-10.00 Z" fill="#fff" stroke="#222" stroke-width="1"/>
<ellipse cx="142.00" cy="0" rx="3.80" ry="10.00" fill="#fff" stroke="#222" stroke-width="1"/>
<path d="M142.00,-6.00 L167.00,-6.00 A2.28,6.00 0 0 1 167.00,6.00 L142.00,6.00 A2.28,6.00 0 0 1 142.00,-6.00 Z" fill="#fff" stroke="#222" stroke-width="1"/>
<ellipse cx="167.00" cy="0" rx="2.28" ry="6.00" fill="#fff" stroke="#222" stroke-width="1"/>
<ellipse cx="165.5" cy="0" rx="2.1" ry="5.4" fill="none" stroke="#222" stroke-width="0.7"/>
<ellipse cx="168.2" cy="0" rx="2" ry="2.6" fill="none" stroke="#222" stroke-width="0.9"/>
</g>
<g transform="translate(370.5 232.5) rotate(29.4) scale(1)">
<path d="M0.00,-5.50 L185.37,-5.50 A2.20,5.50 0 0 1 185.37,5.50 L0.00,5.50 A2.20,5.50 0 0 1 0.00,-5.50 Z" fill="#fff" stroke="#222" stroke-width="1"/>
<path d="M0.00,-9.50 L12.00,-9.50 A3.61,9.50 0 0 1 12.00,9.50 L0.00,9.50 A3.61,9.50 0 0 1 0.00,-9.50 Z" fill="#fff" stroke="#222" stroke-width="1"/>
<ellipse cx="12.00" cy="0" rx="3.61" ry="9.50" fill="#fff" stroke="#222" stroke-width="1"/>
<ellipse cx="10.5" cy="0" rx="3.2" ry="8.6" fill="none" stroke="#222" stroke-width="0.7"/>
<path d="M13.00,-7.00 L17.00,-7.00 A2.66,7.00 0 0 1 17.00,7.00 L13.00,7.00 A2.66,7.00 0 0 1 13.00,-7.00 Z" fill="#fff" stroke="#222" stroke-width="1"/>
<ellipse cx="17.00" cy="0" rx="2.66" ry="7.00" fill="#fff" stroke="#222" stroke-width="1"/>
<polygon points="18.39,0.00 18.42,-1.24 18.51,-2.46 18.66,-3.64 18.87,-4.75 19.14,-5.78 21.50,-14.00 25.50,-14.00 28.55,-6.72 28.86,-5.78 29.13,-4.75 29.34,-3.64 29.49,-2.46 29.58,-1.24 29.61,0.00 29.58,1.24 29.49,2.46 29.34,3.64 29.13,4.75 28.86,5.78 28.55,6.72 28.20,7.54 27.80,8.23 27.38,8.78 26.93,9.18 26.47,9.42 26.00,9.50 22.00,9.50 21.53,9.42 21.07,9.18 20.62,8.78 20.20,8.23 19.80,7.54 19.45,6.72 19.14,5.78 18.87,4.75 18.66,3.64 18.51,2.46 18.42,1.24" fill="#fff" stroke="#222" stroke-width="0.95" stroke-linejoin="round"/>
<polygon points="22.39,0.00 22.42,-1.24 22.51,-2.46 22.66,-3.64 22.87,-4.75 23.14,-5.78 25.50,-14.00 28.55,-6.72 28.86,-5.78 29.13,-4.75 29.34,-3.64 29.49,-2.46 29.58,-1.24 29.61,0.00 29.58,1.24 29.49,2.46 29.34,3.64 29.13,4.75 28.86,5.78 28.55,6.72 28.20,7.54 27.80,8.23 27.38,8.78 26.93,9.18 26.47,9.42 26.00,9.50 25.53,9.42 25.07,9.18 24.62,8.78 24.20,8.23 23.80,7.54 23.45,6.72 23.14,5.78 22.87,4.75 22.66,3.64 22.51,2.46 22.42,1.24" fill="#fff" stroke="#222" stroke-width="0.95" stroke-linejoin="round"/>
<ellipse cx="26.0" cy="0" rx="2.5" ry="5.9" fill="none" stroke="#222" stroke-width="0.7"/>
<polygon points="29.39,0.00 29.42,-1.24 29.51,-2.46 29.66,-3.64 29.87,-4.75 30.14,-5.78 30.45,-6.72 30.80,-7.54 31.20,-8.23 31.62,-8.78 32.07,-9.18 32.53,-9.42 33.00,-9.50 37.00,-9.50 37.47,-9.42 37.93,-9.18 38.38,-8.78 38.80,-8.23 39.20,-7.54 39.55,-6.72 39.86,-5.78 40.13,-4.75 40.34,-3.64 40.49,-2.46 40.58,-1.24 40.61,0.00 40.58,1.24 40.49,2.46 40.34,3.64 40.13,4.75 39.86,5.78 39.55,6.72 36.50,14.00 32.50,14.00 30.14,5.78 29.87,4.75 29.66,3.64 29.51,2.46 29.42,1.24" fill="#fff" stroke="#222" stroke-width="0.95" stroke-linejoin="round"/>
<polygon points="33.39,0.00 33.42,-1.24 33.51,-2.46 33.66,-3.64 33.87,-4.75 34.14,-5.78 34.45,-6.72 34.80,-7.54 35.20,-8.23 35.62,-8.78 36.07,-9.18 36.53,-9.42 37.00,-9.50 37.47,-9.42 37.93,-9.18 38.38,-8.78 38.80,-8.23 39.20,-7.54 39.55,-6.72 39.86,-5.78 40.13,-4.75 40.34,-3.64 40.49,-2.46 40.58,-1.24 40.61,0.00 40.58,1.24 40.49,2.46 40.34,3.64 40.13,4.75 39.86,5.78 39.55,6.72 36.50,14.00 34.14,5.78 33.87,4.75 33.66,3.64 33.51,2.46 33.42,1.24" fill="#fff" stroke="#222" stroke-width="0.95" stroke-linejoin="round"/>
<ellipse cx="37.0" cy="0" rx="2.5" ry="5.9" fill="none" stroke="#222" stroke-width="0.7"/>
<ellipse cx="41.0" cy="0" rx="3.0" ry="8.0" fill="#fff" stroke="#222" stroke-width="1"/>
<ellipse cx="43.6" cy="0" rx="3.0" ry="8.0" fill="#fff" stroke="#222" stroke-width="1"/>
<ellipse cx="46.2" cy="0" rx="3.0" ry="8.0" fill="#fff" stroke="#222" stroke-width="1"/>
<ellipse cx="48.8" cy="0" rx="3.0" ry="8.0" fill="#fff" stroke="#222" stroke-width="1"/>
<ellipse cx="51.4" cy="0" rx="3.0" ry="8.0" fill="#fff" stroke="#222" stroke-width="1"/>
<polygon points="51.39,0.00 51.42,-1.24 51.51,-2.46 51.66,-3.64 51.87,-4.75 52.14,-5.78 54.50,-14.00 58.50,-14.00 61.55,-6.72 61.86,-5.78 62.13,-4.75 62.34,-3.64 62.49,-2.46 62.58,-1.24 62.61,0.00 62.58,1.24 62.49,2.46 62.34,3.64 62.13,4.75 61.86,5.78 61.55,6.72 61.20,7.54 60.80,8.23 60.38,8.78 59.93,9.18 59.47,9.42 59.00,9.50 55.00,9.50 54.53,9.42 54.07,9.18 53.62,8.78 53.20,8.23 52.80,7.54 52.45,6.72 52.14,5.78 51.87,4.75 51.66,3.64 51.51,2.46 51.42,1.24" fill="#fff" stroke="#222" stroke-width="0.95" stroke-linejoin="round"/>
<polygon points="55.39,0.00 55.42,-1.24 55.51,-2.46 55.66,-3.64 55.87,-4.75 56.14,-5.78 58.50,-14.00 61.55,-6.72 61.86,-5.78 62.13,-4.75 62.34,-3.64 62.49,-2.46 62.58,-1.24 62.61,0.00 62.58,1.24 62.49,2.46 62.34,3.64 62.13,4.75 61.86,5.78 61.55,6.72 61.20,7.54 60.80,8.23 60.38,8.78 59.93,9.18 59.47,9.42 59.00,9.50 58.53,9.42 58.07,9.18 57.62,8.78 57.20,8.23 56.80,7.54 56.45,6.72 56.14,5.78 55.87,4.75 55.66,3.64 55.51,2.46 55.42,1.24" fill="#fff" stroke="#222" stroke-width="0.95" stroke-linejoin="round"/>
<ellipse cx="59.0" cy="0" rx="2.5" ry="5.9" fill="none" stroke="#222" stroke-width="0.7"/>
<polygon points="62.39,0.00 62.42,-1.24 62.51,-2.46 62.66,-3.64 62.87,-4.75 63.14,-5.78 63.45,-6.72 63.80,-7.54 64.19,-8.23 64.62,-8.78 65.07,-9.18 65.53,-9.42 66.00,-9.50 70.00,-9.50 70.47,-9.42 70.93,-9.18 71.38,-8.78 71.81,-8.23 72.20,-7.54 72.55,-6.72 72.86,-5.78 73.13,-4.75 73.34,-3.64 73.49,-2.46 73.58,-1.24 73.61,0.00 73.58,1.24 73.49,2.46 73.34,3.64 73.13,4.75 72.86,5.78 72.55,6.72 69.50,14.00 65.50,14.00 63.14,5.78 62.87,4.75 62.66,3.64 62.51,2.46 62.42,1.24" fill="#fff" stroke="#222" stroke-width="0.95" stroke-linejoin="round"/>
<polygon points="66.39,0.00 66.42,-1.24 66.51,-2.46 66.66,-3.64 66.87,-4.75 67.14,-5.78 67.45,-6.72 67.80,-7.54 68.19,-8.23 68.62,-8.78 69.07,-9.18 69.53,-9.42 70.00,-9.50 70.47,-9.42 70.93,-9.18 71.38,-8.78 71.81,-8.23 72.20,-7.54 72.55,-6.72 72.86,-5.78 73.13,-4.75 73.34,-3.64 73.49,-2.46 73.58,-1.24 73.61,0.00 73.58,1.24 73.49,2.46 73.34,3.64 73.13,4.75 72.86,5.78 72.55,6.72 69.50,14.00 67.14,5.78 66.87,4.75 66.66,3.64 66.51,2.46 66.42,1.24" fill="#fff" stroke="#222" stroke-width="0.95" stroke-linejoin="round"/>
<ellipse cx="70.0" cy="0" rx="2.5" ry="5.9" fill="none" stroke="#222" stroke-width="0.7"/>
<path d="M76.00,-8.50 L84.00,-8.50 A3.23,8.50 0 0 1 84.00,8.50 L76.00,8.50 A3.23,8.50 0 0 1 76.00,-8.50 Z" fill="#fff" stroke="#222" stroke-width="1"/>
<ellipse cx="84.00" cy="0" rx="3.23" ry="8.50" fill="#fff" stroke="#222" stroke-width="1"/>
<ellipse cx="82.5" cy="0" rx="2.9" ry="7.7" fill="none" stroke="#222" stroke-width="0.7"/>
<polygon points="86.39,0.00 86.42,-1.24 86.51,-2.46 86.66,-3.64 86.87,-4.75 87.14,-5.78 89.50,-14.00 93.50,-14.00 96.55,-6.72 96.86,-5.78 97.13,-4.75 97.34,-3.64 97.49,-2.46 97.58,-1.24 97.61,0.00 97.58,1.24 97.49,2.46 97.34,3.64 97.13,4.75 96.86,5.78 96.55,6.72 96.20,7.54 95.81,8.23 95.38,8.78 94.93,9.18 94.47,9.42 94.00,9.50 90.00,9.50 89.53,9.42 89.07,9.18 88.62,8.78 88.20,8.23 87.80,7.54 87.45,6.72 87.14,5.78 86.87,4.75 86.66,3.64 86.51,2.46 86.42,1.24" fill="#fff" stroke="#222" stroke-width="0.95" stroke-linejoin="round"/>
<polygon points="90.39,0.00 90.42,-1.24 90.51,-2.46 90.66,-3.64 90.87,-4.75 91.14,-5.78 93.50,-14.00 96.55,-6.72 96.86,-5.78 97.13,-4.75 97.34,-3.64 97.49,-2.46 97.58,-1.24 97.61,0.00 97.58,1.24 97.49,2.46 97.34,3.64 97.13,4.75 96.86,5.78 96.55,6.72 96.20,7.54 95.81,8.23 95.38,8.78 94.93,9.18 94.47,9.42 94.00,9.50 93.53,9.42 93.07,9.18 92.62,8.78 92.20,8.23 91.80,7.54 91.45,6.72 91.14,5.78 90.87,4.75 90.66,3.64 90.51,2.46 90.42,1.24" fill="#fff" stroke="#222" stroke-width="0.95" stroke-linejoin="round"/>
<ellipse cx="94.0" cy="0" rx="2.5" ry="5.9" fill="none" stroke="#222" stroke-width="0.7"/>
<polygon points="97.39,0.00 97.42,-1.24 97.51,-2.46 97.66,-3.64 97.87,-4.75 98.14,-5.78 98.45,-6.72 98.80,-7.54 99.19,-8.23 99.62,-8.78 100.07,-9.18 100.53,-9.42 101.00,-9.50 105.00,-9.50 105.47,-9.42 105.93,-9.18 106.38,-8.78 106.81,-8.23 107.20,-7.54 107.55,-6.72 107.86,-5.78 108.13,-4.75 108.34,-3.64 108.49,-2.46 108.58,-1.24 108.61,0.00 108.58,1.24 108.49,2.46 108.34,3.64 108.13,4.75 107.86,5.78 107.55,6.72 104.50,14.00 100.50,14.00 98.14,5.78 97.87,4.75 97.66,3.64 97.51,2.46 97.42,1.24" fill="#fff" stroke="#222" stroke-width="0.95" stroke-linejoin="round"/>
<polygon points="101.39,0.00 101.42,-1.24 101.51,-2.46 101.66,-3.64 101.87,-4.75 102.14,-5.78 102.45,-6.72 102.80,-7.54 103.19,-8.23 103.62,-8.78 104.07,-9.18 104.53,-9.42 105.00,-9.50 105.47,-9.42 105.93,-9.18 106.38,-8.78 106.81,-8.23 107.20,-7.54 107.55,-6.72 107.86,-5.78 108.13,-4.75 108.34,-3.64 108.49,-2.46 108.58,-1.24 108.61,0.00 108.58,1.24 108.49,2.46 108.34,3.64 108.13,4.75 107.86,5.78 107.55,6.72 104.50,14.00 102.14,5.78 101.87,4.75 101.66,3.64 101.51,2.46 101.42,1.24" fill="#fff" stroke="#222" stroke-width="0.95" stroke-linejoin="round"/>
<ellipse cx="105.0" cy="0" rx="2.5" ry="5.9" fill="none" stroke="#222" stroke-width="0.7"/>
<path d="M111.00,-8.50 L119.00,-8.50 A3.23,8.50 0 0 1 119.00,8.50 L111.00,8.50 A3.23,8.50 0 0 1 111.00,-8.50 Z" fill="#fff" stroke="#222" stroke-width="1"/>
<ellipse cx="119.00" cy="0" rx="3.23" ry="8.50" fill="#fff" stroke="#222" stroke-width="1"/>
<ellipse cx="117.5" cy="0" rx="2.9" ry="7.7" fill="none" stroke="#222" stroke-width="0.7"/>
<polygon points="120.39,0.00 120.42,-1.24 120.51,-2.46 120.66,-3.64 120.87,-4.75 121.14,-5.78 123.50,-14.00 127.50,-14.00 130.55,-6.72 130.86,-5.78 131.13,-4.75 131.34,-3.64 131.49,-2.46 131.58,-1.24 131.61,0.00 131.58,1.24 131.49,2.46 131.34,3.64 131.13,4.75 130.86,5.78 130.55,6.72 130.20,7.54 129.81,8.23 129.38,8.78 128.93,9.18 128.47,9.42 128.00,9.50 124.00,9.50 123.53,9.42 123.07,9.18 122.62,8.78 122.20,8.23 121.80,7.54 121.45,6.72 121.14,5.78 120.87,4.75 120.66,3.64 120.51,2.46 120.42,1.24" fill="#fff" stroke="#222" stroke-width="0.95" stroke-linejoin="round"/>
<polygon points="124.39,0.00 124.42,-1.24 124.51,-2.46 124.66,-3.64 124.87,-4.75 125.14,-5.78 127.50,-14.00 130.55,-6.72 130.86,-5.78 131.13,-4.75 131.34,-3.64 131.49,-2.46 131.58,-1.24 131.61,0.00 131.58,1.24 131.49,2.46 131.34,3.64 131.13,4.75 130.86,5.78 130.55,6.72 130.20,7.54 129.81,8.23 129.38,8.78 128.93,9.18 128.47,9.42 128.00,9.50 127.53,9.42 127.07,9.18 126.62,8.78 126.20,8.23 125.80,7.54 125.45,6.72 125.14,5.78 124.87,4.75 124.66,3.64 124.51,2.46 124.42,1.24" fill="#fff" stroke="#222" stroke-width="0.95" stroke-linejoin="round"/>
<ellipse cx="128.0" cy="0" rx="2.5" ry="5.9" fill="none" stroke="#222" stroke-width="0.7"/>
<polygon points="131.39,0.00 131.42,-1.24 131.51,-2.46 131.66,-3.64 131.87,-4.75 132.14,-5.78 132.45,-6.72 132.80,-7.54 133.19,-8.23 133.62,-8.78 134.07,-9.18 134.53,-9.42 135.00,-9.50 139.00,-9.50 139.47,-9.42 139.93,-9.18 140.38,-8.78 140.81,-8.23 141.20,-7.54 141.55,-6.72 141.86,-5.78 142.13,-4.75 142.34,-3.64 142.49,-2.46 142.58,-1.24 142.61,0.00 142.58,1.24 142.49,2.46 142.34,3.64 142.13,4.75 141.86,5.78 141.55,6.72 138.50,14.00 134.50,14.00 132.14,5.78 131.87,4.75 131.66,3.64 131.51,2.46 131.42,1.24" fill="#fff" stroke="#222" stroke-width="0.95" stroke-linejoin="round"/>
<polygon points="135.39,0.00 135.42,-1.24 135.51,-2.46 135.66,-3.64 135.87,-4.75 136.14,-5.78 136.45,-6.72 136.80,-7.54 137.19,-8.23 137.62,-8.78 138.07,-9.18 138.53,-9.42 139.00,-9.50 139.47,-9.42 139.93,-9.18 140.38,-8.78 140.81,-8.23 141.20,-7.54 141.55,-6.72 141.86,-5.78 142.13,-4.75 142.34,-3.64 142.49,-2.46 142.58,-1.24 142.61,0.00 142.58,1.24 142.49,2.46 142.34,3.64 142.13,4.75 141.86,5.78 141.55,6.72 138.50,14.00 136.14,5.78 135.87,4.75 135.66,3.64 135.51,2.46 135.42,1.24" fill="#fff" stroke="#222" stroke-width="0.95" stroke-linejoin="round"/>
<ellipse cx="139.0" cy="0" rx="2.5" ry="5.9" fill="none" stroke="#222" stroke-width="0.7"/>
<path d="M145.00,-8.50 L153.00,-8.50 A3.23,8.50 0 0 1 153.00,8.50 L145.00,8.50 A3.23,8.50 0 0 1 145.00,-8.50 Z" fill="#fff" stroke="#222" stroke-width="1"/>
<ellipse cx="153.00" cy="0" rx="3.23" ry="8.50" fill="#fff" stroke="#222" stroke-width="1"/>
<ellipse cx="151.5" cy="0" rx="2.9" ry="7.7" fill="none" stroke="#222" stroke-width="0.7"/>
<path d="M154.00,-8.50 L160.00,-8.50 A3.23,8.50 0 0 1 160.00,8.50 L154.00,8.50 A3.23,8.50 0 0 1 154.00,-8.50 Z" fill="#fff" stroke="#222" stroke-width="1"/>
<ellipse cx="160.00" cy="0" rx="3.23" ry="8.50" fill="#fff" stroke="#222" stroke-width="1"/>
<ellipse cx="158.5" cy="0" rx="2.9" ry="7.7" fill="none" stroke="#222" stroke-width="0.7"/>
<path d="M158.00,-10.00 L164.00,-10.00 A3.80,10.00 0 0 1 164.00,10.00 L158.00,10.00 A3.80,10.00 0 0 1 158.00,-10.00 Z" fill="#fff" stroke="#222" stroke-width="1"/>
<ellipse cx="164.00" cy="0" rx="3.80" ry="10.00" fill="#fff" stroke="#222" stroke-width="1"/>
<ellipse cx="162.5" cy="0" rx="3.4" ry="9.0" fill="none" stroke="#222" stroke-width="0.7"/>
<path d="M164.00,-6.00 L185.40,-6.00 A2.28,6.00 0 0 1 185.40,6.00 L164.00,6.00 A2.28,6.00 0 0 1 164.00,-6.00 Z" fill="#fff" stroke="#222" stroke-width="1"/>
<ellipse cx="185.40" cy="0" rx="2.28" ry="6.00" fill="#fff" stroke="#222" stroke-width="1"/>
<ellipse cx="183.9" cy="0" rx="2.1" ry="5.4" fill="none" stroke="#222" stroke-width="0.7"/>
<ellipse cx="185.4" cy="0" rx="2" ry="2.6" fill="none" stroke="#222" stroke-width="0.9"/>
</g>
<line x1="553.0" y1="274.0" x2="580.0" y2="290.0" stroke="#222" stroke-width="0.9" stroke-dasharray="7 2 1.5 2"/>
<line x1="596.0" y1="300.0" x2="660.0" y2="336.0" stroke="#222" stroke-width="0.9" stroke-dasharray="7 2 1.5 2"/>
<line x1="532.0" y1="323.5" x2="545.0" y2="327.0" stroke="#222" stroke-width="0.9" stroke-dasharray="7 2 1.5 2"/>
<line x1="553.0" y1="266.0" x2="564.0" y2="243.0" stroke="#222" stroke-width="0.8"/>
<rect x="561" y="239" width="6" height="3" transform="rotate(-60 564 240.5)" fill="#fff" stroke="#222" stroke-width="0.9"/>
<rect x="541" y="325" width="7.5" height="3.2" transform="rotate(30 545 326.5)" fill="#fff" stroke="#222" stroke-width="0.9"/>
<polygon points="13.5,0.0 13.5,1.2 11.9,2.1 11.8,3.1 13.1,4.7 12.9,5.8 11.2,6.1 10.9,7.1 12.0,9.1 11.6,10.1 9.9,9.8 9.4,10.7 10.1,12.9 9.5,13.8 7.9,12.9 7.4,13.6 7.7,16.0 7.0,16.7 5.6,15.3 4.9,15.8 4.8,18.2 4.0,18.6 2.9,16.8 2.2,17.0 1.6,19.4 0.8,19.5 -0.0,17.3 -0.7,17.3 -1.6,19.4 -2.4,19.2 -2.9,16.8 -3.6,16.5 -4.8,18.2 -5.5,17.8 -5.6,15.3 -6.2,14.8 -7.7,16.0 -8.3,15.4 -7.9,12.9 -8.5,12.2 -10.1,12.9 -10.6,12.0 -9.9,9.8 -10.2,8.9 -12.0,9.1 -12.3,8.0 -11.2,6.1 -11.4,5.1 -13.1,4.7 -13.3,3.5 -11.9,2.1 -12.0,1.0 -13.5,-0.0 -13.5,-1.2 -11.9,-2.1 -11.8,-3.1 -13.1,-4.7 -12.9,-5.8 -11.2,-6.1 -10.9,-7.1 -12.0,-9.1 -11.6,-10.1 -9.9,-9.8 -9.4,-10.7 -10.1,-12.9 -9.5,-13.8 -7.9,-12.9 -7.4,-13.6 -7.7,-16.0 -7.0,-16.7 -5.6,-15.3 -4.9,-15.8 -4.8,-18.2 -4.0,-18.6 -2.9,-16.8 -2.2,-17.0 -1.6,-19.4 -0.8,-19.5 -0.0,-17.3 0.7,-17.3 1.6,-19.4 2.4,-19.2 2.9,-16.8 3.6,-16.5 4.8,-18.2 5.5,-17.8 5.6,-15.3 6.2,-14.8 7.7,-16.0 8.3,-15.4 7.9,-12.9 8.5,-12.2 10.1,-12.9 10.6,-12.0 9.9,-9.8 10.2,-8.9 12.0,-9.1 12.3,-8.0 11.2,-6.1 11.4,-5.1 13.1,-4.7 13.3,-3.5 11.9,-2.1 12.0,-1.0" transform="translate(582.0 291.0) rotate(22.0)" fill="#fff" stroke="#222" stroke-width="1" stroke-linejoin="round"/>
<path d="M575,273 L583,272 L595,310 L587,311 Z" fill="#fff" stroke="none"/>
<polygon points="13.5,0.0 13.5,1.2 11.9,2.1 11.8,3.1 13.1,4.7 12.9,5.8 11.2,6.1 10.9,7.1 12.0,9.1 11.6,10.1 9.9,9.8 9.4,10.7 10.1,12.9 9.5,13.8 7.9,12.9 7.4,13.6 7.7,16.0 7.0,16.7 5.6,15.3 4.9,15.8 4.8,18.2 4.0,18.6 2.9,16.8 2.2,17.0 1.6,19.4 0.8,19.5 -0.0,17.3 -0.7,17.3 -1.6,19.4 -2.4,19.2 -2.9,16.8 -3.6,16.5 -4.8,18.2 -5.5,17.8 -5.6,15.3 -6.2,14.8 -7.7,16.0 -8.3,15.4 -7.9,12.9 -8.5,12.2 -10.1,12.9 -10.6,12.0 -9.9,9.8 -10.2,8.9 -12.0,9.1 -12.3,8.0 -11.2,6.1 -11.4,5.1 -13.1,4.7 -13.3,3.5 -11.9,2.1 -12.0,1.0 -13.5,-0.0 -13.5,-1.2 -11.9,-2.1 -11.8,-3.1 -13.1,-4.7 -12.9,-5.8 -11.2,-6.1 -10.9,-7.1 -12.0,-9.1 -11.6,-10.1 -9.9,-9.8 -9.4,-10.7 -10.1,-12.9 -9.5,-13.8 -7.9,-12.9 -7.4,-13.6 -7.7,-16.0 -7.0,-16.7 -5.6,-15.3 -4.9,-15.8 -4.8,-18.2 -4.0,-18.6 -2.9,-16.8 -2.2,-17.0 -1.6,-19.4 -0.8,-19.5 -0.0,-17.3 0.7,-17.3 1.6,-19.4 2.4,-19.2 2.9,-16.8 3.6,-16.5 4.8,-18.2 5.5,-17.8 5.6,-15.3 6.2,-14.8 7.7,-16.0 8.3,-15.4 7.9,-12.9 8.5,-12.2 10.1,-12.9 10.6,-12.0 9.9,-9.8 10.2,-8.9 12.0,-9.1 12.3,-8.0 11.2,-6.1 11.4,-5.1 13.1,-4.7 13.3,-3.5 11.9,-2.1 12.0,-1.0" transform="translate(586.0 292.5) rotate(22.0)" fill="#fff" stroke="#222" stroke-width="1" stroke-linejoin="round"/>
<ellipse cx="586.5" cy="292.5" rx="10.0" ry="15.5" transform="rotate(22.0 586.5 292.5)" stroke="#222" stroke-width="0.9" fill="#fff" />
<ellipse cx="587.0" cy="292.5" rx="6.5" ry="10.5" transform="rotate(22.0 587.0 292.5)" stroke="#222" stroke-width="1.3" fill="#fff" />
<rect x="604" y="295.5" width="5" height="3.5" transform="rotate(30 606.5 297.2)" fill="#fff" stroke="#222" stroke-width="0.9"/>
<polygon points="614.0,308.0 619.0,304.0 627.0,305.0 630.0,309.0 629.0,317.0 624.0,322.0 617.0,322.0 613.0,316.0" stroke="#222" stroke-width="1.1" fill="#fff" stroke-linejoin="round"/>
<polyline points="616.0,304.0 619.0,302.0 622.0,304.0" stroke="#222" stroke-width="1" fill="none" stroke-linejoin="round"/>
<polyline points="628.0,306.0 631.0,305.0 632.0,309.0" stroke="#222" stroke-width="1" fill="none" stroke-linejoin="round"/>
<polyline points="615.0,320.0 617.0,324.0 621.0,323.0" stroke="#222" stroke-width="1" fill="none" stroke-linejoin="round"/>
<ellipse cx="622.0" cy="313.0" rx="4.5" ry="6.0" transform="rotate(25.0 622.0 313.0)" stroke="#222" stroke-width="1.2" fill="#fff" />
<ellipse cx="622.0" cy="313.0" rx="2.2" ry="3.2" transform="rotate(25.0 622.0 313.0)" stroke="#222" stroke-width="0.9" fill="#fff" />
<g transform="translate(665.0 337.5) rotate(-147.0) scale(1)">
<rect x="1.9" y="-1.5" width="10.0" height="3.1" fill="#fff" stroke="#222" stroke-width="1"/>
<line x1="4.6" y1="-1.5" x2="5.5" y2="1.5" stroke="#222" stroke-width="0.9"/>
<line x1="6.1" y1="-1.5" x2="7.0" y2="1.5" stroke="#222" stroke-width="0.9"/>
<line x1="7.6" y1="-1.5" x2="8.5" y2="1.5" stroke="#222" stroke-width="0.9"/>
<line x1="9.1" y1="-1.5" x2="10.0" y2="1.5" stroke="#222" stroke-width="0.9"/>
<line x1="10.6" y1="-1.5" x2="11.5" y2="1.5" stroke="#222" stroke-width="0.9"/>
<ellipse cx="0" cy="0" rx="2.8" ry="3.8" fill="#fff" stroke="#222" stroke-width="1.2"/>
<ellipse cx="-0.8" cy="0" rx="1.6" ry="2.3" fill="none" stroke="#222" stroke-width="0.9"/>
</g>
<line x1="598.0" y1="362.0" x2="618.0" y2="373.0" stroke="#222" stroke-width="0.9" stroke-dasharray="7 2 1.5 2"/>
<polygon points="13.0,0.0 13.0,1.4 11.3,2.4 11.2,3.5 12.5,5.4 12.2,6.6 10.4,6.9 10.0,8.0 10.9,10.3 10.4,11.4 8.6,10.9 8.1,11.8 8.5,14.4 7.8,15.2 6.2,14.0 5.5,14.7 5.4,17.3 4.5,17.8 3.2,16.0 2.4,16.3 1.9,18.8 0.9,19.0 0.0,16.7 -0.8,16.7 -1.9,18.8 -2.8,18.6 -3.2,16.0 -4.0,15.6 -5.4,17.3 -6.2,16.7 -6.2,14.0 -6.8,13.4 -8.5,14.4 -9.2,13.4 -8.6,10.9 -9.1,10.0 -10.9,10.3 -11.4,9.1 -10.4,6.9 -10.7,5.8 -12.5,5.4 -12.7,4.0 -11.3,2.4 -11.4,1.2 -13.0,0.0 -13.0,-1.4 -11.3,-2.4 -11.2,-3.5 -12.5,-5.4 -12.2,-6.6 -10.4,-6.9 -10.0,-8.0 -10.9,-10.3 -10.4,-11.4 -8.6,-10.9 -8.1,-11.8 -8.5,-14.4 -7.8,-15.2 -6.2,-14.0 -5.5,-14.7 -5.4,-17.3 -4.5,-17.8 -3.2,-16.0 -2.4,-16.3 -1.9,-18.8 -0.9,-19.0 -0.0,-16.7 0.8,-16.7 1.9,-18.8 2.8,-18.6 3.2,-16.0 4.0,-15.6 5.4,-17.3 6.2,-16.7 6.2,-14.0 6.8,-13.4 8.5,-14.4 9.2,-13.4 8.6,-10.9 9.1,-10.0 10.9,-10.3 11.4,-9.1 10.4,-6.9 10.7,-5.8 12.5,-5.4 12.7,-4.0 11.3,-2.4 11.4,-1.2" transform="translate(578.0 355.0) rotate(15.0)" fill="#fff" stroke="#222" stroke-width="1" stroke-linejoin="round"/>
<polygon points="566.47,358.28 566.56,356.62 566.76,354.96 567.05,353.29 567.44,351.64 567.93,350.01 568.51,348.42 569.18,346.88 569.93,345.40 570.75,343.99 571.65,342.67 572.61,341.44 573.62,340.32 574.69,339.30 575.79,338.41 576.93,337.64 578.09,337.01 579.27,336.51 580.45,336.15 581.62,335.94 582.79,335.87 583.93,335.94 594.93,337.94 596.05,338.16 597.12,338.53 598.15,339.03 599.12,339.68 600.04,340.45 600.88,341.35 601.65,342.37 602.34,343.50 602.94,344.73 603.45,346.06 603.86,347.47 604.18,348.95 604.40,350.50 604.51,352.09 604.53,353.72 604.44,355.38 604.24,357.04 603.95,358.71 603.56,360.36 603.07,361.99 602.49,363.58 601.82,365.12 601.07,366.60 600.25,368.01 599.35,369.33 598.39,370.56 597.38,371.68 596.31,372.70 595.21,373.59 594.07,374.36 592.91,374.99 591.73,375.49 590.55,375.85 589.38,376.06 588.21,376.13 587.07,376.06 576.07,374.06 574.95,373.84 573.88,373.47 572.85,372.97 571.88,372.32 570.96,371.55 570.12,370.65 569.35,369.63 568.66,368.50 568.06,367.27 567.55,365.94 567.14,364.53 566.82,363.05 566.60,361.50 566.49,359.91" fill="#fff" stroke="#222" stroke-width="1" stroke-linejoin="round"/>
<ellipse cx="591.0" cy="357.0" rx="13.0" ry="19.5" transform="rotate(15.0 591.0 357.0)" stroke="#222" stroke-width="1" fill="#fff" />
<path d="M603.5,349 L607.5,350 L606,355 L602.5,354.5" stroke="#222" stroke-width="0.9" fill="#fff" stroke-linejoin="round" stroke-linecap="round" />
<ellipse cx="593.5" cy="358.5" rx="5.0" ry="6.8" transform="rotate(15.0 593.5 358.5)" stroke="#222" stroke-width="1.1" fill="#fff" />
<ellipse cx="594.0" cy="358.5" rx="3.0" ry="4.3" transform="rotate(15.0 594.0 358.5)" stroke="#222" stroke-width="0.9" fill="#fff" />
<ellipse cx="580.0" cy="350.5" rx="2.6" ry="3.3" transform="rotate(15.0 580.0 350.5)" stroke="#222" stroke-width="0.9" fill="#fff" />
<polyline points="583.0,339.0 590.0,340.0" stroke="#222" stroke-width="0.8" fill="none" stroke-linejoin="round"/>
<polyline points="577.0,371.0 580.0,375.0 585.0,375.0" stroke="#222" stroke-width="0.8" fill="none" stroke-linejoin="round"/>
<g transform="translate(623.0 376.0) rotate(-150.0) scale(1)">
<rect x="1.9" y="-1.5" width="13.1" height="3.1" fill="#fff" stroke="#222" stroke-width="1"/>
<line x1="4.6" y1="-1.5" x2="5.5" y2="1.5" stroke="#222" stroke-width="0.9"/>
<line x1="6.1" y1="-1.5" x2="7.0" y2="1.5" stroke="#222" stroke-width="0.9"/>
<line x1="7.6" y1="-1.5" x2="8.5" y2="1.5" stroke="#222" stroke-width="0.9"/>
<line x1="9.1" y1="-1.5" x2="10.0" y2="1.5" stroke="#222" stroke-width="0.9"/>
<line x1="10.6" y1="-1.5" x2="11.5" y2="1.5" stroke="#222" stroke-width="0.9"/>
<line x1="12.1" y1="-1.5" x2="13.0" y2="1.5" stroke="#222" stroke-width="0.9"/>
<line x1="13.6" y1="-1.5" x2="14.5" y2="1.5" stroke="#222" stroke-width="0.9"/>
<ellipse cx="0" cy="0" rx="2.8" ry="3.8" fill="#fff" stroke="#222" stroke-width="1.2"/>
<ellipse cx="-0.8" cy="0" rx="1.6" ry="2.3" fill="none" stroke="#222" stroke-width="0.9"/>
</g>
<path d="M515.5,480 C511,470 514,456 526,448.8 C533,444 540,443 547.5,442.8 C556,441 565,438 571,438 C578,438 583,443 582,452 C581,460 580,464 577,467 C574,471 570,474 566.5,475" stroke="#333" stroke-width="7" fill="none" stroke-linejoin="round" stroke-linecap="round" />
<path d="M515.5,480 C511,470 514,456 526,448.8 C533,444 540,443 547.5,442.8 C556,441 565,438 571,438 C578,438 583,443 582,452 C581,460 580,464 577,467 C574,471 570,474 566.5,475" stroke="#fff" stroke-width="3" fill="none" stroke-linejoin="round" stroke-dasharray="1.6 2.4" stroke-linecap="butt"/>
<path d="M515.5,480 C511,470 514,456 526,448.8 C533,444 540,443 547.5,442.8 C556,441 565,438 571,438 C578,438 583,443 582,452 C581,460 580,464 577,467 C574,471 570,474 566.5,475" stroke="#333" stroke-width="7" fill="none" stroke-linejoin="round" stroke-dasharray="0.8 3" stroke-linecap="butt"/>
<path d="M566.5,475 C560,479 553,483 547.5,484.5 C538,486 530,487 523.8,487 C519,487 516,484 515.5,480" stroke="#2a2a2a" stroke-width="5.5" fill="none" stroke-linejoin="round" stroke-linecap="round" />
<path d="M566.5,475 C560,479 553,483 547.5,484.5 C538,486 530,487 523.8,487 C519,487 516,484 515.5,480" stroke="#fff" stroke-width="3.5" fill="none" stroke-linejoin="round" stroke-linecap="round" />
<path d="M566,475.5 C558,480 552,482 546,483 C536,485 528,485.5 522,485" stroke="#222" stroke-width="0.8" fill="none" stroke-linejoin="round" stroke-linecap="round" />
<rect x="479.1" y="413.0" width="3.2" height="10" fill="#fff" stroke="#222" stroke-width="1"/>
<line x1="479.1" y1="415.0" x2="482.3" y2="416.0" stroke="#222" stroke-width="0.8"/>
<line x1="479.1" y1="416.7" x2="482.3" y2="417.7" stroke="#222" stroke-width="0.8"/>
<line x1="479.1" y1="418.4" x2="482.3" y2="419.4" stroke="#222" stroke-width="0.8"/>
<line x1="479.1" y1="420.1" x2="482.3" y2="421.1" stroke="#222" stroke-width="0.8"/>
<line x1="479.1" y1="421.8" x2="482.3" y2="422.8" stroke="#222" stroke-width="0.8"/>
<polygon points="477.90,409.49 477.92,409.37 477.95,409.25 478.00,409.13 478.07,409.01 478.17,408.90 478.28,408.79 478.41,408.69 478.56,408.59 478.72,408.50 478.90,408.42 479.10,408.34 479.30,408.28 479.52,408.22 479.75,408.17 479.98,408.14 480.22,408.11 480.46,408.09 480.70,408.09 480.95,408.09 481.19,408.11 481.43,408.14 481.66,408.17 481.89,408.22 482.10,408.28 482.31,408.34 482.50,408.42 482.68,408.50 482.85,408.59 483.00,408.69 483.13,408.79 483.24,408.90 483.34,409.01 483.41,409.13 483.46,409.25 483.49,409.37 483.50,409.49 483.50,413.49 483.49,413.61 483.46,413.73 483.41,413.85 483.34,413.97 483.24,414.08 483.13,414.19 483.00,414.29 482.85,414.39 482.68,414.48 482.50,414.56 482.31,414.64 482.10,414.70 481.89,414.76 481.66,414.81 481.43,414.84 481.19,414.87 480.95,414.88 480.70,414.89 480.46,414.88 480.22,414.87 479.98,414.84 479.75,414.81 479.52,414.76 479.30,414.70 479.10,414.64 478.90,414.56 478.72,414.48 478.56,414.39 478.41,414.29 478.28,414.19 478.17,414.08 478.07,413.97 478.00,413.85 477.95,413.73 477.92,413.61 477.90,413.49" fill="#fff" stroke="#222" stroke-width="1" stroke-linejoin="round"/>
<ellipse cx="480.7" cy="409.5" rx="2.8" ry="1.4" transform="rotate(0.0 480.7 409.5)" stroke="#222" stroke-width="1" fill="#fff" />
<polygon points="475.5,441.0 475.5,451.5 486.0,456.0 504.7,444.7 503.9,438.0 500.9,438.7 501.7,420.0 495.7,417.0 489.7,420.7 488.2,439.5 481.5,440.2 482.2,432.7 476.2,429.7 472.5,432.7" stroke="#222" stroke-width="1" fill="#fff" stroke-linejoin="round"/>
<polyline points="475.5,441.0 486.0,445.5 486.0,456.0" stroke="#222" stroke-width="0.9" fill="none" stroke-linejoin="round"/>
<polyline points="486.0,445.5 503.9,438.0" stroke="#222" stroke-width="0.9" fill="none" stroke-linejoin="round"/>
<polyline points="488.2,439.5 488.2,424.5 489.7,420.7" stroke="#222" stroke-width="0.9" fill="none" stroke-linejoin="round"/>
<polyline points="488.2,424.5 498.7,426.0 501.7,420.0" stroke="#222" stroke-width="0.9" fill="none" stroke-linejoin="round"/>
<polyline points="498.7,426.0 500.2,439.5" stroke="#222" stroke-width="0.9" fill="none" stroke-linejoin="round"/>
<ellipse cx="494.9" cy="423.7" rx="2.2" ry="1.4" transform="rotate(-20.0 494.9 423.7)" stroke="#222" stroke-width="1.3" fill="#444" />
<ellipse cx="479.7" cy="437.7" rx="2.2" ry="1.5" transform="rotate(0.0 479.7 437.7)" stroke="#222" stroke-width="0.9" fill="#fff" />
<polyline points="472.5,432.7 475.8,435.0 476.2,441.0" stroke="#222" stroke-width="0.8" fill="none" stroke-linejoin="round"/>
<polyline points="489.0,450.0 494.9,444.0 494.9,450.0 489.0,453.0" stroke="#222" stroke-width="0.9" fill="#ddd" stroke-linejoin="round"/>
<polyline points="497.9,448.5 501.7,442.5 502.4,446.2" stroke="#222" stroke-width="0.9" fill="#ddd" stroke-linejoin="round"/>
<polygon points="234.3,617.5 241.4,599.7 279.4,617.5 300.8,593.8 300.8,593.8 319.8,593.8 331.6,598.5 336.4,594.9 353.0,598.5 367.3,603.3 386.3,610.4 397.0,612.8 395.8,619.9 391.0,621.1 391.0,621.1 395.8,629.4 391.0,638.9 381.5,641.3 381.5,641.3 376.8,641.3 374.4,648.4 376.8,655.5 372.0,665.0 374.4,669.8 372.0,674.5 362.5,674.5 353.0,681.6 345.9,684.0 334.0,674.5 324.5,676.9 315.0,681.6 303.1,686.4 291.3,684.0 291.3,684.0 288.9,679.3 279.4,674.5 269.9,669.8 260.4,665.0 250.9,657.9 243.8,654.3 236.6,650.8 233.1,641.3 235.4,632.9 241.4,629.4" stroke="#222" stroke-width="0" fill="#fff" stroke-linejoin="round"/>
<polyline points="300.8,593.8 319.8,593.8 331.6,598.5 336.4,594.9 353.0,598.5 367.3,603.3 386.3,610.4 397.0,612.8 395.8,619.9 391.0,621.1" stroke="#222" stroke-width="0.95" fill="none" stroke-linejoin="round"/>
<polyline points="391.0,621.1 395.8,629.4 391.0,638.9 381.5,641.3" stroke="#222" stroke-width="2.2" fill="none" stroke-linejoin="round"/>
<polyline points="381.5,641.3 376.8,641.3 374.4,648.4 376.8,655.5 372.0,665.0 374.4,669.8 372.0,674.5 362.5,674.5 353.0,681.6 345.9,684.0 334.0,674.5 324.5,676.9 315.0,681.6 303.1,686.4 291.3,684.0" stroke="#222" stroke-width="0.95" fill="none" stroke-linejoin="round"/>
<polyline points="291.3,684.0 288.9,679.3 279.4,674.5 269.9,669.8 260.4,665.0 250.9,657.9 243.8,654.3 236.6,650.8 233.1,641.3 235.4,632.9 241.4,629.4" stroke="#222" stroke-width="0.95" fill="none" stroke-linejoin="round"/>
<polyline points="322.6,578.3 362.5,597.3" stroke="#222" stroke-width="0.95" fill="none" stroke-linejoin="round"/>
<polyline points="241.4,599.7 298.4,627.0" stroke="#222" stroke-width="0.95" fill="none" stroke-linejoin="round"/>
<polyline points="234.3,617.5 243.8,622.7" stroke="#222" stroke-width="0.95" fill="none" stroke-linejoin="round"/>
<polyline points="243.8,619.9 242.6,625.1" stroke="#222" stroke-width="0.8" fill="none" stroke-linejoin="round"/>
<polyline points="246.1,625.1 298.4,651.9" stroke="#222" stroke-width="0.95" fill="none" stroke-linejoin="round"/>
<polygon points="240.62,609.98 240.65,609.59 240.69,609.20 240.76,608.81 240.86,608.42 240.97,608.03 241.11,607.66 241.26,607.29 241.44,606.94 241.63,606.61 241.84,606.30 242.06,606.01 242.30,605.74 242.55,605.50 242.80,605.29 243.07,605.11 243.34,604.96 243.61,604.84 243.88,604.75 244.15,604.70 244.42,604.68 244.69,604.70 253.69,605.50 253.94,605.55 254.19,605.63 254.43,605.75 254.65,605.90 254.86,606.08 255.06,606.29 255.23,606.53 255.39,606.80 255.53,607.09 255.64,607.40 255.74,607.73 255.81,608.08 255.86,608.44 255.88,608.82 255.88,609.20 255.86,609.59 255.81,609.99 255.74,610.38 255.65,610.77 255.54,611.15 255.40,611.53 255.24,611.89 255.07,612.24 254.88,612.57 254.67,612.89 254.44,613.18 254.21,613.44 253.96,613.68 253.70,613.90 253.44,614.08 253.17,614.23 252.90,614.35 252.63,614.43 252.35,614.49 252.08,614.50 251.82,614.49 242.82,613.69 242.56,613.64 242.31,613.55 242.08,613.43 241.85,613.28 241.64,613.10 241.45,612.89 241.27,612.65 241.12,612.39 240.98,612.10 240.86,611.79 240.77,611.45 240.70,611.10 240.65,610.74 240.62,610.37" fill="#fff" stroke="#222" stroke-width="1" stroke-linejoin="round"/>
<ellipse cx="243.8" cy="609.2" rx="3.0" ry="4.6" transform="rotate(15.0 243.8 609.2)" stroke="#222" stroke-width="1" fill="#fff" />
<ellipse cx="244.1" cy="609.5" rx="1.3" ry="2.1" transform="rotate(15.0 244.1 609.5)" stroke="#222" stroke-width="1.1" fill="#666" />
<polygon points="256.06,618.30 256.09,617.91 256.13,617.51 256.20,617.12 256.29,616.73 256.41,616.35 256.55,615.97 256.70,615.61 256.88,615.26 257.07,614.92 257.28,614.61 257.50,614.32 257.74,614.06 257.99,613.82 258.24,613.60 258.51,613.42 258.77,613.27 259.05,613.15 259.32,613.07 259.59,613.01 259.86,613.00 260.13,613.01 269.13,613.81 269.38,613.86 269.63,613.95 269.87,614.07 270.09,614.22 270.30,614.40 270.50,614.61 270.67,614.85 270.83,615.11 270.97,615.40 271.08,615.71 271.18,616.04 271.25,616.39 271.30,616.76 271.32,617.13 271.32,617.52 271.30,617.91 271.25,618.30 271.18,618.69 271.09,619.08 270.98,619.47 270.84,619.84 270.68,620.21 270.51,620.56 270.32,620.89 270.11,621.20 269.88,621.49 269.65,621.76 269.40,622.00 269.14,622.21 268.88,622.39 268.61,622.54 268.34,622.66 268.06,622.75 267.79,622.80 267.52,622.82 267.26,622.80 258.26,622.00 258.00,621.95 257.75,621.86 257.52,621.75 257.29,621.60 257.08,621.42 256.89,621.20 256.71,620.97 256.56,620.70 256.42,620.41 256.30,620.10 256.21,619.77 256.14,619.42 256.09,619.06 256.06,618.68" fill="#fff" stroke="#222" stroke-width="1" stroke-linejoin="round"/>
<ellipse cx="259.2" cy="617.5" rx="3.0" ry="4.6" transform="rotate(15.0 259.2 617.5)" stroke="#222" stroke-width="1" fill="#fff" />
<ellipse cx="259.5" cy="617.8" rx="1.3" ry="2.1" transform="rotate(15.0 259.5 617.8)" stroke="#222" stroke-width="1.1" fill="#666" />
<path d="M270.6318289786223,613.1306413301663 C270.6318289786223,618.1306413301663 277.6318289786223,619.1306413301663 278.6318289786223,614.1306413301663" stroke="#222" stroke-width="0.95" fill="#fff" stroke-linejoin="round" stroke-linecap="round" />
<ellipse cx="242.6" cy="641.3" rx="6.0" ry="8.8" transform="rotate(15.0 242.6 641.3)" stroke="#222" stroke-width="1.3" fill="#fff" />
<path d="M248.56532066508314,633.2589073634205 C252.56532066508314,639.2589073634205 252.56532066508314,647.2589073634205 249.56532066508314,651.2589073634205" stroke="#222" stroke-width="0.95" fill="none" stroke-linejoin="round" stroke-linecap="round" />
<ellipse cx="274.6" cy="659.1" rx="7.0" ry="9.3" transform="rotate(15.0 274.6 659.1)" stroke="#222" stroke-width="1.3" fill="#fff" />
<path d="M281.6318289786223,650.0736342042755 C285.6318289786223,656.0736342042755 285.6318289786223,665.0736342042755 282.6318289786223,670.0736342042755" stroke="#222" stroke-width="0.95" fill="none" stroke-linejoin="round" stroke-linecap="round" />
<ellipse cx="254.4" cy="634.1" rx="3.0" ry="4.2" transform="rotate(15.0 254.4 634.1)" stroke="#222" stroke-width="0.95" fill="#fff" />
<ellipse cx="256.9" cy="635.1" rx="3.0" ry="4.2" transform="rotate(15.0 256.9 635.1)" stroke="#222" stroke-width="0.95" fill="#fff" />
<ellipse cx="243.8" cy="628.2" rx="2.2" ry="2.4" transform="rotate(0.0 243.8 628.2)" stroke="#222" stroke-width="0.95" fill="#fff" />
<ellipse cx="258.0" cy="661.4" rx="2.2" ry="2.4" transform="rotate(0.0 258.0 661.4)" stroke="#222" stroke-width="0.95" fill="#fff" />
<ellipse cx="274.6" cy="646.0" rx="2.2" ry="2.4" transform="rotate(0.0 274.6 646.0)" stroke="#222" stroke-width="0.95" fill="#fff" />
<ellipse cx="288.9" cy="679.3" rx="2.6" ry="2.9" transform="rotate(0.0 288.9 679.3)" stroke="#222" stroke-width="0.95" fill="#fff" />
<ellipse cx="303.1" cy="654.3" rx="2.5" ry="2.8" transform="rotate(0.0 303.1 654.3)" stroke="#222" stroke-width="0.95" fill="#fff" />
<ellipse cx="324.5" cy="665.0" rx="3.5" ry="3.9" transform="rotate(0.0 324.5 665.0)" stroke="#222" stroke-width="0.95" fill="#fff" />
<ellipse cx="364.9" cy="653.1" rx="2.3" ry="2.5" transform="rotate(0.0 364.9 653.1)" stroke="#222" stroke-width="0.95" fill="#fff" />
<ellipse cx="372.0" cy="665.0" rx="2.3" ry="2.5" transform="rotate(0.0 372.0 665.0)" stroke="#222" stroke-width="0.95" fill="#fff" />
<ellipse cx="334.0" cy="589.0" rx="2.0" ry="2.2" transform="rotate(0.0 334.0 589.0)" stroke="#222" stroke-width="0.95" fill="#fff" />
<ellipse cx="353.0" cy="598.5" rx="2.0" ry="2.2" transform="rotate(0.0 353.0 598.5)" stroke="#222" stroke-width="0.95" fill="#fff" />
<ellipse cx="376.8" cy="610.4" rx="2.0" ry="2.2" transform="rotate(0.0 376.8 610.4)" stroke="#222" stroke-width="0.95" fill="#fff" />
<ellipse cx="392.2" cy="612.8" rx="2.2" ry="2.4" transform="rotate(0.0 392.2 612.8)" stroke="#222" stroke-width="0.95" fill="#fff" />
<ellipse cx="391.0" cy="619.9" rx="2.0" ry="2.2" transform="rotate(0.0 391.0 619.9)" stroke="#222" stroke-width="0.95" fill="#fff" />
<ellipse cx="288.9" cy="679.3" rx="1.2" ry="1.4" transform="rotate(0.0 288.9 679.3)" stroke="#222" stroke-width="0.8" fill="#fff" />
<polygon points="288.3,651.5 293.3,651.5 295.3,655.5 293.3,659.5 288.3,659.5 286.3,655.5" stroke="#222" stroke-width="0.95" fill="#fff" stroke-linejoin="round"/>
<ellipse cx="290.8" cy="655.5" rx="1.6" ry="2.2" transform="rotate(0.0 290.8 655.5)" stroke="#222" stroke-width="0.9" fill="#fff" />
<ellipse cx="299.6" cy="643.6" rx="5.0" ry="7.0" transform="rotate(15.0 299.6 643.6)" stroke="#222" stroke-width="1.6" fill="#fff" />
<ellipse cx="299.6" cy="643.6" rx="3.0" ry="4.2" transform="rotate(15.0 299.6 643.6)" stroke="#222" stroke-width="0.95" fill="#fff" />
<ellipse cx="315.0" cy="674.5" rx="6.0" ry="6.5" transform="rotate(0.0 315.0 674.5)" stroke="#222" stroke-width="1.2" fill="#fff" />
<ellipse cx="315.0" cy="674.5" rx="3.8" ry="4.2" transform="rotate(0.0 315.0 674.5)" stroke="#222" stroke-width="0.95" fill="#fff" />
<ellipse cx="307.9" cy="600.9" rx="7.0" ry="5.0" transform="rotate(10.0 307.9 600.9)" stroke="#222" stroke-width="1.1" fill="#fff" />
<ellipse cx="307.9" cy="600.9" rx="5.0" ry="3.2" transform="rotate(10.0 307.9 600.9)" stroke="#222" stroke-width="0.8" fill="#fff" />
<path d="M355.76722090261285,606.7553444180522 C362.76722090261285,605.7553444180522 364.76722090261285,615.7553444180522 359.76722090261285,618.7553444180522 C354.76722090261285,619.7553444180522 352.76722090261285,614.7553444180522 352.76722090261285,611.7553444180522" stroke="#222" stroke-width="1.1" fill="none" stroke-linejoin="round" stroke-linecap="round" />
<ellipse cx="357.8" cy="612.8" rx="2.0" ry="2.5" transform="rotate(0.0 357.8 612.8)" stroke="#222" stroke-width="0.9" fill="#fff" />
<ellipse cx="338.8" cy="657.9" rx="3.6" ry="4.6" transform="rotate(10.0 338.8 657.9)" stroke="#222" stroke-width="1.1" fill="#fff" />
<ellipse cx="338.8" cy="657.9" rx="1.8" ry="2.4" transform="rotate(10.0 338.8 657.9)" stroke="#222" stroke-width="0.9" fill="#fff" />
<ellipse cx="345.9" cy="657.9" rx="3.6" ry="4.6" transform="rotate(10.0 345.9 657.9)" stroke="#222" stroke-width="1.1" fill="#fff" />
<ellipse cx="345.9" cy="657.9" rx="1.8" ry="2.4" transform="rotate(10.0 345.9 657.9)" stroke="#222" stroke-width="0.9" fill="#fff" />
<path d="M349.3919239904988,647.6342042755344 C350.3919239904988,639.6342042755344 359.3919239904988,637.6342042755344 362.3919239904988,642.6342042755344" stroke="#222" stroke-width="1.4" fill="none" stroke-linejoin="round" stroke-linecap="round" />
<path d="M369.0190023752969,621.3824228028503 C378.0190023752969,623.3824228028503 380.0190023752969,635.3824228028503 374.0190023752969,639.3824228028503" stroke="#222" stroke-width="0.9" fill="none" stroke-linejoin="round" stroke-linecap="round" />
<path d="M281.8836104513064,611.3800475059383 C282.8836104513064,604.3800475059383 291.8836104513064,603.3800475059383 293.8836104513064,608.3800475059383 L289.8836104513064,611.3800475059383 L290.8836104513064,616.3800475059383 L285.8836104513064,615.3800475059383 Z" stroke="#222" stroke-width="0.95" fill="#fff" stroke-linejoin="round" stroke-linecap="round" />
<path d="M290.38479809976246,621.8812351543943 C292.38479809976246,615.8812351543943 302.38479809976246,614.8812351543943 305.38479809976246,619.8812351543943 L300.38479809976246,621.8812351543943 L298.38479809976246,625.8812351543943 Z" stroke="#222" stroke-width="0.95" fill="#fff" stroke-linejoin="round" stroke-linecap="round" />
<ellipse cx="317.8" cy="623.1" rx="4.5" ry="7.5" transform="rotate(25.0 317.8 623.1)" stroke="#222" stroke-width="1" fill="#fff" />
<ellipse cx="319.2" cy="624.1" rx="4.5" ry="7.5" transform="rotate(25.0 319.2 624.1)" stroke="#222" stroke-width="1" fill="#fff" />
<ellipse cx="320.6" cy="625.1" rx="4.5" ry="7.5" transform="rotate(25.0 320.6 625.1)" stroke="#222" stroke-width="1" fill="#fff" />
<ellipse cx="322.0" cy="626.1" rx="4.5" ry="7.5" transform="rotate(25.0 322.0 626.1)" stroke="#222" stroke-width="1" fill="#fff" />
<ellipse cx="323.4" cy="627.1" rx="4.5" ry="7.5" transform="rotate(25.0 323.4 627.1)" stroke="#222" stroke-width="1" fill="#fff" />
<polyline points="291.3,627.0 310.3,634.1 331.6,646.0 353.0,646.0 367.3,638.9 381.5,641.3" stroke="#222" stroke-width="0.95" fill="none" stroke-linejoin="round"/>
<polyline points="310.3,612.8 334.0,622.3 343.5,617.5 353.0,627.0 367.3,631.8 381.5,636.5" stroke="#222" stroke-width="0.95" fill="none" stroke-linejoin="round"/>
<polyline points="336.4,610.4 331.6,648.4" stroke="#222" stroke-width="0.95" fill="none" stroke-linejoin="round"/>
<polyline points="340.0,611.6 338.8,631.8" stroke="#222" stroke-width="0.8" fill="none" stroke-linejoin="round"/>
<polyline points="281.8,624.6 291.3,650.8 298.4,665.0 303.1,674.5" stroke="#222" stroke-width="0.95" fill="none" stroke-linejoin="round"/>
<polyline points="300.8,665.0 307.9,674.5 319.8,681.6" stroke="#222" stroke-width="0.95" fill="none" stroke-linejoin="round"/>
<polyline points="300.8,593.8 298.4,600.9 303.1,608.0 315.0,610.4" stroke="#222" stroke-width="0.95" fill="none" stroke-linejoin="round"/>
<polyline points="329.3,591.4 326.9,597.3 334.0,599.7" stroke="#222" stroke-width="0.8" fill="none" stroke-linejoin="round"/>
<polyline points="362.5,662.6 362.5,674.5" stroke="#222" stroke-width="0.8" fill="none" stroke-linejoin="round"/>
<polyline points="362.5,674.5 368.5,671.0 367.3,660.3" stroke="#222" stroke-width="0.8" fill="none" stroke-linejoin="round"/>
<polyline points="353.0,681.6 353.0,660.3 362.5,655.5 372.0,648.4" stroke="#222" stroke-width="0.95" fill="none" stroke-linejoin="round"/>
<polyline points="372.0,598.5 376.8,612.8 374.4,627.0 386.3,631.8" stroke="#222" stroke-width="0.8" fill="none" stroke-linejoin="round"/>
<polyline points="310.3,629.4 307.9,641.3 315.0,648.4" stroke="#222" stroke-width="0.8" fill="none" stroke-linejoin="round"/>
<polyline points="267.5,629.4 265.1,641.3 268.7,648.4" stroke="#222" stroke-width="0.8" fill="none" stroke-linejoin="round"/>
<polyline points="250.9,657.9 253.3,651.9 262.8,653.1" stroke="#222" stroke-width="0.8" fill="none" stroke-linejoin="round"/>
<polyline points="274.6,636.5 271.1,648.4" stroke="#222" stroke-width="0.8" fill="none" stroke-linejoin="round"/>
<line x1="222.6" y1="653.8" x2="300.0" y2="643.6" stroke="#222" stroke-width="0.9" stroke-dasharray="7 2 1.5 2"/>
<line x1="152.0" y1="676.0" x2="262.0" y2="662.0" stroke="#222" stroke-width="0.9" stroke-dasharray="7 2 1.5 2"/>
<line x1="320.0" y1="685.0" x2="330.0" y2="698.0" stroke="#222" stroke-width="0.8"/>
<polygon points="188.40,659.24 188.43,658.68 188.50,658.12 188.60,657.56 188.73,657.01 188.90,656.47 189.10,655.95 189.33,655.45 189.58,654.97 189.86,654.51 190.17,654.09 190.50,653.70 190.84,653.34 191.21,653.03 191.58,652.76 191.97,652.53 192.36,652.34 192.76,652.21 218.76,646.21 219.17,646.12 219.57,646.08 219.96,646.08 220.35,646.14 220.73,646.25 221.10,646.40 221.44,646.60 221.78,646.85 222.09,647.13 222.37,647.46 222.63,647.83 222.86,648.23 223.07,648.67 223.24,649.13 223.38,649.62 223.49,650.13 223.56,650.66 223.60,651.20 223.60,651.76 223.57,652.32 223.50,652.88 223.40,653.44 223.27,653.99 223.10,654.53 222.90,655.05 222.67,655.55 222.42,656.03 222.14,656.49 221.83,656.91 221.50,657.30 221.16,657.66 220.79,657.97 220.42,658.24 220.03,658.47 219.64,658.66 219.24,658.79 193.24,664.79 192.83,664.88 192.43,664.92 192.04,664.92 191.65,664.86 191.27,664.75 190.90,664.60 190.56,664.40 190.22,664.15 189.91,663.87 189.63,663.54 189.37,663.17 189.14,662.77 188.93,662.33 188.76,661.87 188.62,661.38 188.51,660.87 188.44,660.34 188.40,659.80" fill="#fff" stroke="#222" stroke-width="1" stroke-linejoin="round"/>
<ellipse cx="193.0" cy="658.5" rx="4.5" ry="6.5" transform="rotate(12.0 193.0 658.5)" stroke="#222" stroke-width="1" fill="#fff" />
<ellipse cx="193.0" cy="658.5" rx="4.5" ry="6.5" transform="rotate(12.0 193.0 658.5)" stroke="#222" stroke-width="1.3" fill="#fff" />
<ellipse cx="193.3" cy="658.5" rx="2.6" ry="3.8" transform="rotate(12.0 193.3 658.5)" stroke="#222" stroke-width="1" fill="#fff" />
<ellipse cx="211.0" cy="653.8" rx="2.2" ry="5.3" transform="rotate(12.0 211.0 653.8)" stroke="#222" stroke-width="0.9" fill="#fff" />
<ellipse cx="214.0" cy="653.8" rx="2.2" ry="5.3" transform="rotate(12.0 214.0 653.8)" stroke="#222" stroke-width="0.9" fill="#fff" />
<ellipse cx="217.0" cy="653.8" rx="2.2" ry="5.3" transform="rotate(12.0 217.0 653.8)" stroke="#222" stroke-width="0.9" fill="#fff" />
<ellipse cx="220.0" cy="652.3" rx="2.5" ry="4.6" transform="rotate(12.0 220.0 652.3)" stroke="#222" stroke-width="1" fill="#fff" />
<polygon points="197.00,645.50 197.01,645.33 197.05,645.15 197.10,644.98 197.18,644.82 197.28,644.65 197.40,644.50 197.54,644.35 197.70,644.21 197.88,644.09 198.07,643.97 198.28,643.86 198.50,643.77 198.73,643.69 198.97,643.62 199.22,643.57 199.48,643.53 199.74,643.51 200.00,643.50 200.26,643.51 200.52,643.53 200.78,643.57 201.03,643.62 201.27,643.69 201.50,643.77 201.72,643.86 201.93,643.97 202.12,644.09 202.30,644.21 202.46,644.35 202.60,644.50 202.72,644.65 202.82,644.82 202.90,644.98 202.95,645.15 203.95,649.65 203.99,649.83 204.00,650.00 203.99,650.17 203.95,650.35 203.90,650.52 203.82,650.68 203.72,650.85 203.60,651.00 203.46,651.15 203.30,651.29 203.12,651.41 202.93,651.53 202.72,651.64 202.50,651.73 202.27,651.81 202.03,651.88 201.78,651.93 201.52,651.97 201.26,651.99 201.00,652.00 200.74,651.99 200.48,651.97 200.22,651.93 199.97,651.88 199.73,651.81 199.50,651.73 199.28,651.64 199.07,651.53 198.88,651.41 198.70,651.29 198.54,651.15 198.40,651.00 198.28,650.85 198.18,650.68 198.10,650.52 198.05,650.35 197.05,645.85 197.01,645.67" fill="#fff" stroke="#222" stroke-width="1" stroke-linejoin="round"/>
<ellipse cx="200.0" cy="645.5" rx="3.0" ry="2.0" transform="rotate(0.0 200.0 645.5)" stroke="#222" stroke-width="1" fill="#fff" />
<polyline points="205.0,662.0 206.0,668.0 210.0,669.0 211.0,662.0" stroke="#222" stroke-width="0.9" fill="#fff" stroke-linejoin="round"/>
<ellipse cx="208.5" cy="666.5" rx="1.6" ry="1.5" transform="rotate(0.0 208.5 666.5)" stroke="#222" stroke-width="0.8" fill="#fff" />
<g transform="translate(140.5 678.0) rotate(-9.3) scale(1)">
<rect x="1.6" y="-1.5" width="9.5" height="3.1" fill="#fff" stroke="#222" stroke-width="1"/>
<line x1="4.1" y1="-1.5" x2="5.0" y2="1.5" stroke="#222" stroke-width="0.9"/>
<line x1="5.6" y1="-1.5" x2="6.5" y2="1.5" stroke="#222" stroke-width="0.9"/>
<line x1="7.1" y1="-1.5" x2="8.0" y2="1.5" stroke="#222" stroke-width="0.9"/>
<line x1="8.6" y1="-1.5" x2="9.5" y2="1.5" stroke="#222" stroke-width="0.9"/>
<line x1="10.1" y1="-1.5" x2="11.0" y2="1.5" stroke="#222" stroke-width="0.9"/>
<ellipse cx="0" cy="0" rx="2.5" ry="3.3" fill="#fff" stroke="#222" stroke-width="1.2"/>
<ellipse cx="-0.7" cy="0" rx="1.4" ry="2.0" fill="none" stroke="#222" stroke-width="0.9"/>
</g>
<polygon points="163.5,669.7 173.8,668.8 175.7,676.3 190.7,682.9 201.9,683.8 202.9,697.0 190.7,698.8 188.8,695.0 186.9,712.0 179.4,712.0 175.7,702.6 173.8,691.3 168.2,680.0" stroke="#222" stroke-width="1" fill="#fff" stroke-linejoin="round"/>
<polygon points="189.7,683.8 202.9,683.8 202.9,697.0 189.7,697.0" stroke="#222" stroke-width="1" fill="#fff" stroke-linejoin="round"/>
<polygon points="193.0,687.0 199.5,687.0 199.5,694.0 193.0,694.0" stroke="#222" stroke-width="0.9" fill="none" stroke-linejoin="round"/>
<ellipse cx="172.0" cy="674.4" rx="1.8" ry="2.2" transform="rotate(0.0 172.0 674.4)" stroke="#222" stroke-width="0.9" fill="#fff" />
<ellipse cx="180.4" cy="705.4" rx="2.8" ry="2.2" transform="rotate(10.0 180.4 705.4)" stroke="#222" stroke-width="0.9" fill="#fff" />
<g transform="translate(329.5 698.5) rotate(45.0) scale(1)">
<rect x="0" y="-3" width="13" height="6" fill="#fff" stroke="#222" stroke-width="1"/>
<rect x="0" y="-3" width="4" height="6" fill="#444" stroke="#222" stroke-width="1"/>
<ellipse cx="13" cy="0" rx="1.5" ry="3" fill="#fff" stroke="#222" stroke-width="0.9"/>
</g>
<g transform="translate(342.0 716.0) rotate(35.0) scale(1)">
<rect x="0" y="-4.5" width="6" height="9" fill="#fff" stroke="#222" stroke-width="1"/>
<rect x="6" y="-3" width="9" height="6" fill="#fff" stroke="#222" stroke-width="1"/>
<line x1="7" y1="-3" x2="8" y2="3" stroke="#222" stroke-width="0.8"/><line x1="9.5" y1="-3" x2="10.5" y2="3" stroke="#222" stroke-width="0.8"/><line x1="12" y1="-3" x2="13" y2="3" stroke="#222" stroke-width="0.8"/>
</g>
<g transform="translate(498.0 560.0) rotate(0.0) scale(1)">
<path d="M-12,15.5 L-12,23.5 A12,6 0 0 0 12,23.5 L12,9.5 Z" fill="#fff" stroke="#222" stroke-width="1"/>
<ellipse cx="0" cy="9.5" rx="12" ry="6" fill="#fff" stroke="#222" stroke-width="1"/>
<line x1="-12" y1="9.5" x2="-12" y2="23.5" stroke="#222" stroke-width="1"/>
<ellipse cx="0" cy="10.5" rx="9.5" ry="4.5" fill="none" stroke="#222" stroke-width="0.9"/>
<ellipse cx="0" cy="11" rx="2" ry="1.2" fill="none" stroke="#222" stroke-width="0.9"/>
<path d="M-4.5,36 L-3.5,46 L0,46.5 L0,37 Z M4.5,36 L3.5,46 L0.5,46.5 L0.5,37" fill="#fff" stroke="#222" stroke-width="0.9"/>
<ellipse cx="0" cy="37" rx="4.5" ry="2" fill="none" stroke="#222" stroke-width="0.9"/>
<path d="M-8,56.5 L-5,63 A5,2.5 0 0 0 5,63 L8,56.5 Z" fill="#fff" stroke="#222" stroke-width="1"/>
<ellipse cx="0" cy="56.5" rx="8" ry="4" fill="#fff" stroke="#222" stroke-width="1"/>
<ellipse cx="0" cy="56.5" rx="4.5" ry="2.2" fill="none" stroke="#222" stroke-width="0.9"/>
<ellipse cx="0" cy="74.0" rx="8.6" ry="3.2" fill="none" stroke="#222" stroke-width="1"/>
<ellipse cx="0" cy="77.7" rx="8.6" ry="3.2" fill="none" stroke="#222" stroke-width="1"/>
<ellipse cx="0" cy="81.4" rx="8.6" ry="3.2" fill="none" stroke="#222" stroke-width="1"/>
<ellipse cx="0" cy="85.1" rx="8.6" ry="3.2" fill="none" stroke="#222" stroke-width="1"/>
<ellipse cx="0" cy="88.8" rx="8.6" ry="3.2" fill="none" stroke="#222" stroke-width="1"/>
<ellipse cx="0" cy="92.5" rx="8.6" ry="3.2" fill="none" stroke="#222" stroke-width="1"/>
<ellipse cx="0" cy="96.2" rx="8.6" ry="3.2" fill="none" stroke="#222" stroke-width="1"/>
<ellipse cx="0" cy="99.9" rx="8.6" ry="3.2" fill="none" stroke="#222" stroke-width="1"/>
<ellipse cx="0" cy="103.6" rx="8.6" ry="3.2" fill="none" stroke="#222" stroke-width="1"/>
<ellipse cx="0" cy="107.3" rx="8.6" ry="3.2" fill="none" stroke="#222" stroke-width="1"/>
<line x1="-8.6" y1="74" x2="-8.6" y2="107.29999999999995" stroke="#222" stroke-width="0.9"/><line x1="8.6" y1="74" x2="8.6" y2="107.29999999999995" stroke="#222" stroke-width="0.9"/>
<path d="M-6.2,121.5 C-6.2,117 -4,113 0,113 C4,113 6.2,117 6.2,121.5 A6.2,2.3 0 0 1 -6.2,121.5 Z" fill="#fff" stroke="#222" stroke-width="1"/>
<path d="M-5,117 A5,2 0 0 0 5,117 M-3.5,114.5 A3.5,1.5 0 0 0 3.5,114.5" fill="none" stroke="#222" stroke-width="0.8"/>
<path d="M-9,132 L-9,135.5 A9,4 0 0 0 9,135.5 L9,132 Z" fill="#fff" stroke="#222" stroke-width="1"/>
<ellipse cx="0" cy="132" rx="9" ry="4" fill="#fff" stroke="#222" stroke-width="1"/>
<ellipse cx="0" cy="131" rx="5" ry="2.5" fill="#fff" stroke="#222" stroke-width="0.9"/>
</g>
<g transform="translate(495.5 703.0) rotate(0.0) scale(1)">
<path d="M-3,2 L-3,48 C-3,54 -8,58 -11,61 A12.2,6.5 0 0 0 11,61 C8,58 3,54 3,48 L3,2 A3,2 0 0 0 -3,2 Z" fill="#fff" stroke="#222" stroke-width="1"/>
<ellipse cx="0" cy="63" rx="12.2" ry="6.5" fill="#fff" stroke="#222" stroke-width="1"/>
<ellipse cx="0" cy="63" rx="9.5" ry="4.8" fill="none" stroke="#222" stroke-width="0.9"/>
<path d="M-3,48 L3,48 M-3,5 L3,5 M-3,7 L3,7" stroke="#222" stroke-width="0.8"/>
<path d="M-3,50 C-4,55 -7,59 -9,61 M3,50 C4,55 7,59 9,61" stroke="#222" stroke-width="0.7" fill="none"/>
</g>
<g transform="translate(606.0 554.5) rotate(20.0) scale(1)">
<path d="M-12,6 L-12,14 A12,6 0 0 0 12,14 L12,0 Z" fill="#fff" stroke="#222" stroke-width="1"/>
<ellipse cx="0" cy="0" rx="12" ry="6" fill="#fff" stroke="#222" stroke-width="1"/>
<line x1="-12" y1="0" x2="-12" y2="14" stroke="#222" stroke-width="1"/>
<ellipse cx="0" cy="1" rx="9.5" ry="4.5" fill="none" stroke="#222" stroke-width="0.9"/><ellipse cx="0" cy="1.5" rx="2" ry="1.2" fill="none" stroke="#222" stroke-width="0.9"/>
</g>
<g transform="translate(597.0 583.0) rotate(20.0) scale(1)">
<path d="M-4.5,-5 L-3.5,5 L0,5.5 L0,-4 Z M4.5,-5 L3.5,5 L0.5,5.5 L0.5,-4" fill="#fff" stroke="#222" stroke-width="0.9"/><ellipse cx="0" cy="-4" rx="4.5" ry="2" fill="none" stroke="#222" stroke-width="0.9"/>
</g>
<g transform="translate(590.6 598.0) rotate(20.0) scale(1)">
<path d="M-8,0 L-5,6.5 A5,2.5 0 0 0 5,6.5 L8,0 Z" fill="#fff" stroke="#222" stroke-width="1"/><ellipse cx="0" cy="0" rx="8" ry="4" fill="#fff" stroke="#222" stroke-width="1"/><ellipse cx="0" cy="0" rx="4.5" ry="2.2" fill="none" stroke="#222" stroke-width="0.9"/>
</g>
<g transform="translate(580.0 628.5) rotate(20.0) scale(1)">
<ellipse cx="0" cy="-16.5" rx="8.6" ry="3.2" fill="none" stroke="#222" stroke-width="1"/>
<ellipse cx="0" cy="-12.8" rx="8.6" ry="3.2" fill="none" stroke="#222" stroke-width="1"/>
<ellipse cx="0" cy="-9.1" rx="8.6" ry="3.2" fill="none" stroke="#222" stroke-width="1"/>
<ellipse cx="0" cy="-5.4" rx="8.6" ry="3.2" fill="none" stroke="#222" stroke-width="1"/>
<ellipse cx="0" cy="-1.7" rx="8.6" ry="3.2" fill="none" stroke="#222" stroke-width="1"/>
<ellipse cx="0" cy="2.0" rx="8.6" ry="3.2" fill="none" stroke="#222" stroke-width="1"/>
<ellipse cx="0" cy="5.7" rx="8.6" ry="3.2" fill="none" stroke="#222" stroke-width="1"/>
<ellipse cx="0" cy="9.4" rx="8.6" ry="3.2" fill="none" stroke="#222" stroke-width="1"/>
<ellipse cx="0" cy="13.1" rx="8.6" ry="3.2" fill="none" stroke="#222" stroke-width="1"/>
<ellipse cx="0" cy="16.8" rx="8.6" ry="3.2" fill="none" stroke="#222" stroke-width="1"/>
<line x1="-8.6" y1="-16.5" x2="-8.6" y2="16.8" stroke="#222" stroke-width="0.9"/><line x1="8.6" y1="-16.5" x2="8.6" y2="16.8" stroke="#222" stroke-width="0.9"/>
</g>
<g transform="translate(570.0 654.5) rotate(20.0) scale(1)">
<path d="M-6.2,4 C-6.2,-0.5 -4,-4.5 0,-4.5 C4,-4.5 6.2,-0.5 6.2,4 A6.2,2.3 0 0 1 -6.2,4 Z" fill="#fff" stroke="#222" stroke-width="1"/><path d="M-5,-0.5 A5,2 0 0 0 5,-0.5 M-3.5,-3 A3.5,1.5 0 0 0 3.5,-3" fill="none" stroke="#222" stroke-width="0.8"/>
</g>
<g transform="translate(564.0 669.0) rotate(20.0) scale(1)">
<path d="M-9,0 L-9,3.5 A9,4 0 0 0 9,3.5 L9,0 Z" fill="#fff" stroke="#222" stroke-width="1"/><ellipse cx="0" cy="0" rx="9" ry="4" fill="#fff" stroke="#222" stroke-width="1"/><ellipse cx="0" cy="-1" rx="5" ry="2.5" fill="#fff" stroke="#222" stroke-width="0.9"/>
</g>
<g transform="translate(562.0 682.0) rotate(20.0) scale(1)">
<path d="M-3,2 L-3,48 C-3,54 -8,58 -11,61 A12.2,6.5 0 0 0 11,61 C8,58 3,54 3,48 L3,2 A3,2 0 0 0 -3,2 Z" fill="#fff" stroke="#222" stroke-width="1"/>
<ellipse cx="0" cy="63" rx="12.2" ry="6.5" fill="#fff" stroke="#222" stroke-width="1"/>
<ellipse cx="0" cy="63" rx="9.5" ry="4.8" fill="none" stroke="#222" stroke-width="0.9"/>
<path d="M-3,48 L3,48 M-3,5 L3,5 M-3,7 L3,7" stroke="#222" stroke-width="0.8"/>
<path d="M-3,50 C-4,55 -7,59 -9,61 M3,50 C4,55 7,59 9,61" stroke="#222" stroke-width="0.7" fill="none"/>
</g>
<line x1="165.4" y1="90.0" x2="165.4" y2="109.0" stroke="#222" stroke-width="1"/>
<line x1="230.6" y1="83.4" x2="230.6" y2="102.8" stroke="#222" stroke-width="1"/>
<line x1="164.6" y1="143.5" x2="164.6" y2="162.0" stroke="#222" stroke-width="1"/>
<line x1="171.0" y1="191.9" x2="184.7" y2="191.9" stroke="#222" stroke-width="1"/>
<line x1="294.0" y1="135.3" x2="294.0" y2="155.0" stroke="#222" stroke-width="1"/>
<line x1="576.0" y1="166.6" x2="576.0" y2="184.0" stroke="#222" stroke-width="1"/>
<line x1="489.0" y1="134.0" x2="489.0" y2="225.0" stroke="#222" stroke-width="1"/>
<line x1="489.0" y1="134.0" x2="663.2" y2="234.0" stroke="#222" stroke-width="1"/>
<line x1="564.3" y1="177.3" x2="564.3" y2="207.5" stroke="#222" stroke-width="1"/>
<line x1="564.3" y1="226.6" x2="564.3" y2="238.8" stroke="#222" stroke-width="1"/>
<line x1="586.7" y1="190.1" x2="586.7" y2="250.0" stroke="#222" stroke-width="1"/>
<line x1="586.7" y1="265.0" x2="586.7" y2="271.0" stroke="#222" stroke-width="1"/>
<line x1="607.0" y1="201.8" x2="607.0" y2="231.0" stroke="#222" stroke-width="1"/>
<line x1="607.0" y1="249.0" x2="607.0" y2="294.0" stroke="#222" stroke-width="1"/>
<line x1="636.6" y1="218.8" x2="636.6" y2="252.0" stroke="#222" stroke-width="1"/>
<polyline points="636.6,269.4 636.6,282.5 623.8,305.0" stroke="#222" stroke-width="1" fill="none" stroke-linejoin="round"/>
<line x1="663.2" y1="234.0" x2="663.2" y2="296.6" stroke="#222" stroke-width="1"/>
<line x1="663.2" y1="314.4" x2="663.2" y2="332.0" stroke="#222" stroke-width="1"/>
<line x1="347.6" y1="216.0" x2="347.6" y2="252.0" stroke="#222" stroke-width="1"/>
<line x1="347.6" y1="268.8" x2="347.6" y2="281.5" stroke="#222" stroke-width="1"/>
<line x1="347.6" y1="281.5" x2="617.5" y2="436.2" stroke="#222" stroke-width="1"/>
<line x1="433.6" y1="283.0" x2="433.6" y2="330.8" stroke="#222" stroke-width="1"/>
<line x1="467.0" y1="350.0" x2="467.0" y2="371.0" stroke="#222" stroke-width="1"/>
<line x1="545.6" y1="332.0" x2="545.6" y2="338.8" stroke="#222" stroke-width="1"/>
<line x1="545.6" y1="357.6" x2="545.6" y2="395.0" stroke="#222" stroke-width="1"/>
<line x1="583.0" y1="372.6" x2="583.0" y2="384.8" stroke="#222" stroke-width="1"/>
<line x1="583.0" y1="401.6" x2="583.0" y2="416.5" stroke="#222" stroke-width="1"/>
<line x1="617.3" y1="378.0" x2="617.3" y2="404.5" stroke="#222" stroke-width="1"/>
<line x1="617.3" y1="421.0" x2="617.3" y2="436.2" stroke="#222" stroke-width="1"/>
<line x1="458.2" y1="414.0" x2="477.7" y2="414.0" stroke="#222" stroke-width="1"/>
<line x1="456.0" y1="442.8" x2="474.7" y2="442.8" stroke="#222" stroke-width="1"/>
<line x1="550.0" y1="487.5" x2="550.0" y2="506.0" stroke="#222" stroke-width="1"/>
<line x1="141.8" y1="262.2" x2="141.8" y2="284.0" stroke="#222" stroke-width="1"/>
<line x1="179.3" y1="280.2" x2="179.3" y2="300.5" stroke="#222" stroke-width="1"/>
<line x1="157.2" y1="306.5" x2="157.2" y2="329.8" stroke="#222" stroke-width="1"/>
<line x1="269.0" y1="275.7" x2="269.0" y2="302.9" stroke="#222" stroke-width="1"/>
<line x1="315.4" y1="295.4" x2="315.4" y2="314.0" stroke="#222" stroke-width="1"/>
<line x1="201.4" y1="620.6" x2="201.4" y2="644.4" stroke="#222" stroke-width="1"/>
<line x1="145.3" y1="659.0" x2="145.3" y2="675.4" stroke="#222" stroke-width="1"/>
<line x1="182.9" y1="711.5" x2="182.9" y2="738.5" stroke="#222" stroke-width="1"/>
<line x1="255.5" y1="714.5" x2="270.5" y2="714.5" stroke="#222" stroke-width="1"/>
<polyline points="332.0,704.6 270.5,704.6 270.5,722.0 344.0,722.0" stroke="#222" stroke-width="1" fill="none" stroke-linejoin="round"/>
<line x1="467.2" y1="576.8" x2="487.0" y2="576.8" stroke="#222" stroke-width="1"/>
<line x1="470.5" y1="601.0" x2="520.0" y2="601.0" stroke="#222" stroke-width="1"/>
<line x1="468.0" y1="618.5" x2="487.9" y2="618.5" stroke="#222" stroke-width="1"/>
<line x1="467.2" y1="650.4" x2="486.5" y2="650.4" stroke="#222" stroke-width="1"/>
<line x1="470.0" y1="679.0" x2="489.7" y2="679.0" stroke="#222" stroke-width="1"/>
<line x1="468.2" y1="694.7" x2="487.0" y2="694.7" stroke="#222" stroke-width="1"/>
<line x1="473.4" y1="734.5" x2="492.5" y2="734.5" stroke="#222" stroke-width="1"/>
<line x1="616.7" y1="564.4" x2="635.8" y2="564.4" stroke="#222" stroke-width="1"/>
<line x1="572.0" y1="583.6" x2="592.2" y2="583.6" stroke="#222" stroke-width="1"/>
<line x1="599.7" y1="583.6" x2="620.0" y2="583.6" stroke="#222" stroke-width="1"/>
<line x1="597.6" y1="602.7" x2="617.7" y2="602.7" stroke="#222" stroke-width="1"/>
<line x1="585.9" y1="631.8" x2="607.0" y2="631.8" stroke="#222" stroke-width="1"/>
<line x1="575.7" y1="656.4" x2="595.4" y2="656.4" stroke="#222" stroke-width="1"/>
<line x1="572.0" y1="673.4" x2="592.2" y2="673.4" stroke="#222" stroke-width="1"/>
<line x1="554.2" y1="713.5" x2="572.5" y2="713.5" stroke="#222" stroke-width="1"/>
<text x="141.9" y="86.7" font-size="14.4" fill="#1a1a1a">1140HU</text>
<text x="210.3" y="80.7" font-size="14.4" fill="#1a1a1a">24312</text>
<text x="140" y="140.5" font-size="14.4" fill="#1a1a1a">1140HD</text>
<text x="274.3" y="131.8" font-size="14.4" fill="#1a1a1a">24211</text>
<text x="120" y="198" font-size="14.4" fill="#1a1a1a">24810A</text>
<text x="551" y="163.8" font-size="14.4" fill="#1a1a1a">24100C</text>
<text x="534.3" y="224.6" font-size="14.4" fill="#1a1a1a">1430JC</text>
<text x="590" y="244.5" font-size="14.4" fill="#1a1a1a">24323</text>
<text x="564.6" y="262.6" font-size="14.4" fill="#1a1a1a">24322</text>
<text x="609.3" y="266.5" font-size="14.4" fill="#1a1a1a">24121E</text>
<text x="641.2" y="312.1" font-size="14.4" fill="#1a1a1a">24433</text>
<text x="328.4" y="266.1" font-size="14.4" fill="#1a1a1a">1430JC</text>
<text x="119.2" y="259" font-size="14.4" fill="#1a1a1a">1140FL</text>
<text x="153.7" y="278.9" font-size="14.4" fill="#1a1a1a">24422B</text>
<text x="133" y="346" font-size="14.4" fill="#1a1a1a">24421B</text>
<text x="245.5" y="317.4" font-size="14.4" fill="#1a1a1a">24431A</text>
<text x="295" y="330.9" font-size="14.4" fill="#1a1a1a">24410</text>
<text x="514" y="354.1" font-size="14.4" fill="#1a1a1a">1430JB</text>
<text x="442.6" y="384.9" font-size="14.4" fill="#1a1a1a">24200A</text>
<text x="562" y="399.2" font-size="14.4" fill="#1a1a1a">24350</text>
<text x="592" y="418.9" font-size="14.4" fill="#1a1a1a">24361A</text>
<text x="413" y="420.2" font-size="14.4" fill="#1a1a1a">24000</text>
<text x="402.5" y="448.4" font-size="14.4" fill="#1a1a1a">24410B</text>
<text x="529" y="524.6" font-size="14.4" fill="#1a1a1a">24321</text>
<text x="121.2" y="656.6" font-size="14.4" fill="#1a1a1a">1140FY</text>
<text x="213.7" y="720.2" font-size="14.4" fill="#1a1a1a">24150</text>
<text x="159.9" y="755.2" font-size="14.4" fill="#1a1a1a">91931M</text>
<text x="426.3" y="583.4" font-size="14.4" fill="#1a1a1a">24610</text>
<text x="431.1" y="607.6" font-size="14.4" fill="#1a1a1a">22223</text>
<text x="520" y="607.6" font-size="14.4" fill="#1a1a1a">22223</text>
<text x="425" y="624.1" font-size="14.4" fill="#1a1a1a">22222</text>
<text x="426.8" y="656.5" font-size="14.4" fill="#1a1a1a">22221</text>
<text x="419.9" y="684.7" font-size="14.4" fill="#1a1a1a">22224B</text>
<text x="426.3" y="700.9" font-size="14.4" fill="#1a1a1a">22225</text>
<text x="430" y="739.8" font-size="14.4" fill="#1a1a1a">22212</text>
<text x="637.6" y="569.7" font-size="14.4" fill="#1a1a1a">24610</text>
<text x="530.7" y="588.8" font-size="14.4" fill="#1a1a1a">22223</text>
<text x="622" y="588.8" font-size="14.4" fill="#1a1a1a">22223</text>
<text x="620" y="607.5" font-size="14.4" fill="#1a1a1a">22222</text>
<text x="608.7" y="636.5" font-size="14.4" fill="#1a1a1a">22221</text>
<text x="597.2" y="662.0" font-size="14.4" fill="#1a1a1a">22224B</text>
<text x="593.8" y="677.8" font-size="14.4" fill="#1a1a1a">22225</text>
<text x="576.7" y="719.4" font-size="14.4" fill="#1a1a1a">22211</text>
<text x="219.5" y="28" font-size="12" fill="#222" stroke="#222" stroke-width="0.35">KIA KKMAPTC05 - 24355</text>
<rect x="177.5" y="604" width="48.5" height="16.5" fill="#fc8484" stroke="#f21818" stroke-width="1"/>
<text x="180.3" y="617.35" font-size="14.4" fill="#7c0e0e">24355</text>
</svg></body></html>
